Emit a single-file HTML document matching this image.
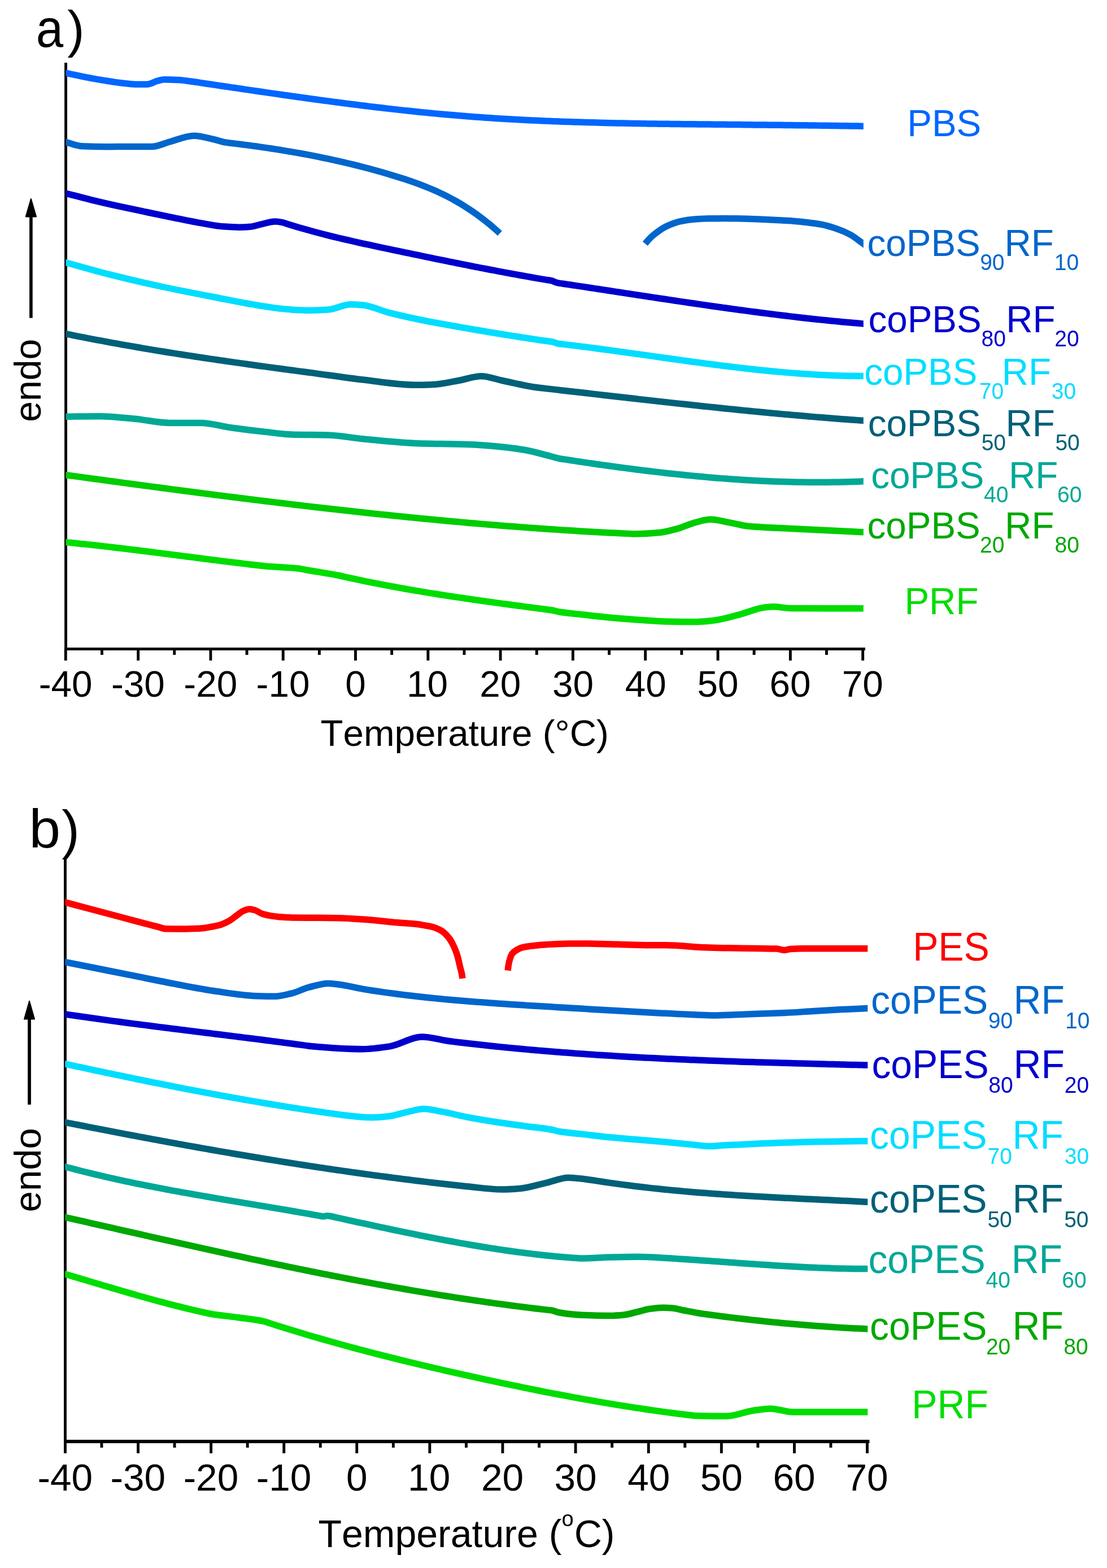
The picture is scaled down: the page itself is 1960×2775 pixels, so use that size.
<!DOCTYPE html><html><head><meta charset="utf-8"><style>html,body{margin:0;padding:0;background:#fff;width:1960px;height:2775px;overflow:hidden}svg{display:block}text{font-family:'Liberation Sans', Arial, Helvetica, sans-serif;font-kerning:none}</style></head><body>
<svg width="1960" height="2775" viewBox="0 0 1960 2775">
<rect width="1960" height="2775" fill="#fff"/>
<rect x="114.1" y="111.0" width="4.9" height="1040.0" fill="#000"/>
<rect x="114.1" y="1146.1" width="1417.8" height="4.9" fill="#000"/>
<rect x="113.8" y="1148.6" width="4.9" height="20.4" fill="#000"/>
<text x="68.72" y="1233.40" font-size="65.60" fill="#000">-40</text>
<rect x="178.0" y="1148.6" width="4.9" height="10.4" fill="#000"/>
<rect x="242.2" y="1148.6" width="4.9" height="20.4" fill="#000"/>
<text x="197.02" y="1233.40" font-size="65.60" fill="#000">-30</text>
<rect x="306.3" y="1148.6" width="4.9" height="10.4" fill="#000"/>
<rect x="370.5" y="1148.6" width="4.9" height="20.4" fill="#000"/>
<text x="325.32" y="1233.40" font-size="65.60" fill="#000">-20</text>
<rect x="434.6" y="1148.6" width="4.9" height="10.4" fill="#000"/>
<rect x="498.8" y="1148.6" width="4.9" height="20.4" fill="#000"/>
<text x="453.62" y="1233.40" font-size="65.60" fill="#000">-10</text>
<rect x="562.9" y="1148.6" width="4.9" height="10.4" fill="#000"/>
<rect x="627.0" y="1148.6" width="4.9" height="20.4" fill="#000"/>
<text x="611.26" y="1233.40" font-size="65.60" fill="#000">0</text>
<rect x="691.2" y="1148.6" width="4.9" height="10.4" fill="#000"/>
<rect x="755.4" y="1148.6" width="4.9" height="20.4" fill="#000"/>
<text x="720.10" y="1233.40" font-size="65.60" fill="#000">10</text>
<rect x="819.5" y="1148.6" width="4.9" height="10.4" fill="#000"/>
<rect x="883.6" y="1148.6" width="4.9" height="20.4" fill="#000"/>
<text x="849.25" y="1233.40" font-size="65.60" fill="#000">20</text>
<rect x="947.8" y="1148.6" width="4.9" height="10.4" fill="#000"/>
<rect x="1011.9" y="1148.6" width="4.9" height="20.4" fill="#000"/>
<text x="977.95" y="1233.40" font-size="65.60" fill="#000">30</text>
<rect x="1076.1" y="1148.6" width="4.9" height="10.4" fill="#000"/>
<rect x="1140.2" y="1148.6" width="4.9" height="20.4" fill="#000"/>
<text x="1106.74" y="1233.40" font-size="65.60" fill="#000">40</text>
<rect x="1204.4" y="1148.6" width="4.9" height="10.4" fill="#000"/>
<rect x="1268.6" y="1148.6" width="4.9" height="20.4" fill="#000"/>
<text x="1234.48" y="1233.40" font-size="65.60" fill="#000">50</text>
<rect x="1332.7" y="1148.6" width="4.9" height="10.4" fill="#000"/>
<rect x="1396.9" y="1148.6" width="4.9" height="20.4" fill="#000"/>
<text x="1362.43" y="1233.40" font-size="65.60" fill="#000">60</text>
<rect x="1461.0" y="1148.6" width="4.9" height="10.4" fill="#000"/>
<rect x="1525.2" y="1148.6" width="4.9" height="20.4" fill="#000"/>
<text x="1490.72" y="1233.40" font-size="65.60" fill="#000">70</text>
<text x="567.53" y="1320.00" font-size="65.50" fill="#000">Temperature (&#176;C)</text>
<text x="63.46" y="83.30" font-size="95.00" fill="#000" transform="translate(67.50,83.30) scale(0.915,1.000) translate(-67.50,-83.30)">a</text>
<text x="119.27" y="82.70" font-size="91.00" fill="#000">)</text>
<rect x="52.1" y="382.4" width="5.6" height="180.3" fill="#000"/>
<path d="M54.9,352.0 L45.8,383.4 L64.0,383.4 Z" fill="#000" stroke="#000" stroke-width="2" stroke-linejoin="round"/>
<text x="0" y="0" font-size="66.0" text-anchor="middle" transform="translate(72.1,673.3) rotate(-90)">endo</text>
<rect x="113.0" y="1518.4" width="4.9" height="1035.7" fill="#000"/>
<rect x="113.0" y="2548.1" width="1426.4" height="6.0" fill="#000"/>
<rect x="113.0" y="2551.1" width="4.9" height="20.9" fill="#000"/>
<text x="66.44" y="2638.40" font-size="67.50" fill="#000">-40</text>
<rect x="177.5" y="2551.1" width="4.9" height="10.9" fill="#000"/>
<rect x="242.1" y="2551.1" width="4.9" height="20.9" fill="#000"/>
<text x="195.54" y="2638.40" font-size="67.50" fill="#000">-30</text>
<rect x="306.6" y="2551.1" width="4.9" height="10.9" fill="#000"/>
<rect x="371.2" y="2551.1" width="4.9" height="20.9" fill="#000"/>
<text x="324.64" y="2638.40" font-size="67.50" fill="#000">-20</text>
<rect x="435.7" y="2551.1" width="4.9" height="10.9" fill="#000"/>
<rect x="500.3" y="2551.1" width="4.9" height="20.9" fill="#000"/>
<text x="453.74" y="2638.40" font-size="67.50" fill="#000">-10</text>
<rect x="564.8" y="2551.1" width="4.9" height="10.9" fill="#000"/>
<rect x="629.3" y="2551.1" width="4.9" height="20.9" fill="#000"/>
<text x="613.03" y="2638.40" font-size="67.50" fill="#000">0</text>
<rect x="693.9" y="2551.1" width="4.9" height="10.9" fill="#000"/>
<rect x="758.4" y="2551.1" width="4.9" height="20.9" fill="#000"/>
<text x="722.11" y="2638.40" font-size="67.50" fill="#000">10</text>
<rect x="823.0" y="2551.1" width="4.9" height="10.9" fill="#000"/>
<rect x="887.5" y="2551.1" width="4.9" height="20.9" fill="#000"/>
<text x="852.08" y="2638.40" font-size="67.50" fill="#000">20</text>
<rect x="952.1" y="2551.1" width="4.9" height="10.9" fill="#000"/>
<rect x="1016.6" y="2551.1" width="4.9" height="20.9" fill="#000"/>
<text x="981.59" y="2638.40" font-size="67.50" fill="#000">30</text>
<rect x="1081.2" y="2551.1" width="4.9" height="10.9" fill="#000"/>
<rect x="1145.8" y="2551.1" width="4.9" height="20.9" fill="#000"/>
<text x="1111.20" y="2638.40" font-size="67.50" fill="#000">40</text>
<rect x="1210.3" y="2551.1" width="4.9" height="10.9" fill="#000"/>
<rect x="1274.9" y="2551.1" width="4.9" height="20.9" fill="#000"/>
<text x="1239.73" y="2638.40" font-size="67.50" fill="#000">50</text>
<rect x="1339.4" y="2551.1" width="4.9" height="10.9" fill="#000"/>
<rect x="1404.0" y="2551.1" width="4.9" height="20.9" fill="#000"/>
<text x="1368.46" y="2638.40" font-size="67.50" fill="#000">60</text>
<rect x="1468.5" y="2551.1" width="4.9" height="10.9" fill="#000"/>
<rect x="1533.0" y="2551.1" width="4.9" height="20.9" fill="#000"/>
<text x="1497.55" y="2638.40" font-size="67.50" fill="#000">70</text>
<text x="563.47" y="2737.60" font-size="68.00" fill="#000">Temperature (</text>
<text x="994.40" y="2701.40" font-size="38.00" fill="#000">o</text>
<text x="1016.65" y="2737.60" font-size="68.00" fill="#000">C)</text>
<text x="51.78" y="1500.50" font-size="96.50" fill="#000" transform="translate(58.00,1500.50) scale(1.035,1.000) translate(-58.00,-1500.50)">b</text>
<text x="109.34" y="1500.50" font-size="95.00" fill="#000">)</text>
<rect x="49.1" y="1802.6" width="5.8" height="152.3" fill="#000"/>
<path d="M52.0,1771.8 L43.0,1803.6 L61.0,1803.6 Z" fill="#000" stroke="#000" stroke-width="2" stroke-linejoin="round"/>
<text x="0" y="0" font-size="67.0" text-anchor="middle" transform="translate(72.1,2070.7) rotate(-90)">endo</text>
<defs><clipPath id="ca"><rect x="116.5" y="0" width="1412.3" height="1146"/></clipPath><clipPath id="cb"><rect x="115.3" y="1500" width="1421.0" height="1048"/></clipPath></defs>
<g clip-path="url(#ca)" fill="none" stroke-width="11.50" stroke-linejoin="round" stroke-linecap="butt">
<path d="M109.00,127.65C111.67,128.20 114.33,128.75 117.00,129.30C131.90,132.37 146.80,135.88 161.70,138.50C182.23,142.11 202.77,145.74 223.30,147.80C229.47,148.42 235.63,149.30 241.80,149.30C247.97,149.30 254.13,149.30 260.30,149.30C266.47,149.30 272.63,144.73 278.80,143.20C282.87,142.19 286.93,140.70 291.00,140.70C299.27,140.70 307.53,141.15 315.80,141.60C326.07,142.16 336.33,143.91 346.60,145.30C349.60,145.70 352.60,146.18 355.60,146.62C358.60,147.07 361.60,147.51 364.60,147.95C367.60,148.40 370.60,148.84 373.60,149.28C376.60,149.73 379.60,150.17 382.60,150.61C385.60,151.06 388.60,151.50 391.60,151.94C394.60,152.39 397.60,152.83 400.60,153.27C403.60,153.72 406.60,154.16 409.60,154.60C412.60,155.04 415.60,155.49 418.60,155.93C421.60,156.37 424.60,156.81 427.60,157.25C430.60,157.69 433.60,158.13 436.60,158.57C439.60,159.01 442.60,159.45 445.60,159.89C448.60,160.33 451.60,160.77 454.60,161.20C457.60,161.64 460.60,162.08 463.60,162.51C466.60,162.95 469.60,163.38 472.60,163.82C475.60,164.25 478.60,164.68 481.60,165.11C484.60,165.55 487.60,165.98 490.60,166.41C493.60,166.84 496.60,167.27 499.60,167.69C502.60,168.12 505.60,168.55 508.60,168.97C511.60,169.40 514.60,169.82 517.60,170.24C520.60,170.67 523.60,171.09 526.60,171.51C529.60,171.93 532.60,172.35 535.60,172.76C538.60,173.18 541.60,173.60 544.60,174.01C547.60,174.43 550.60,174.84 553.60,175.25C556.60,175.66 559.60,176.07 562.60,176.48C565.60,176.89 568.60,177.29 571.60,177.70C574.60,178.10 577.60,178.50 580.60,178.90C583.60,179.30 586.60,179.70 589.60,180.10C592.60,180.49 595.60,180.89 598.60,181.28C601.60,181.67 604.60,182.06 607.60,182.45C610.60,182.84 613.60,183.23 616.60,183.61C619.60,183.99 622.60,184.38 625.60,184.76C628.60,185.14 631.60,185.51 634.60,185.89C637.60,186.26 640.60,186.63 643.60,187.00C646.60,187.37 649.60,187.74 652.60,188.11C655.60,188.47 658.60,188.83 661.60,189.19C664.60,189.55 667.60,189.91 670.60,190.26C673.60,190.62 676.60,190.97 679.60,191.32C682.60,191.67 685.60,192.01 688.60,192.36C691.60,192.70 694.60,193.04 697.60,193.38C700.60,193.71 703.60,194.05 706.60,194.38C709.60,194.71 712.60,195.04 715.60,195.36C718.60,195.69 721.60,196.01 724.60,196.33C727.60,196.65 730.60,196.96 733.60,197.28C736.60,197.59 739.60,197.90 742.60,198.20C745.60,198.51 748.60,198.81 751.60,199.11C754.60,199.41 757.60,199.70 760.60,200.00C763.60,200.29 766.60,200.58 769.60,200.86C772.60,201.14 775.60,201.43 778.60,201.70C781.60,201.98 784.60,202.25 787.60,202.52C790.60,202.79 793.60,203.06 796.60,203.32C799.60,203.58 802.60,203.84 805.60,204.09C808.60,204.35 811.60,204.60 814.60,204.85C817.60,205.09 820.60,205.33 823.60,205.57C826.60,205.81 829.60,206.04 832.60,206.27C835.60,206.50 838.60,206.73 841.60,206.95C844.60,207.17 847.60,207.39 850.60,207.60C853.60,207.82 856.60,208.03 859.60,208.23C862.60,208.44 865.60,208.64 868.60,208.84C871.60,209.04 874.60,209.23 877.60,209.42C880.60,209.61 883.60,209.80 886.60,209.98C889.60,210.17 892.60,210.35 895.60,210.52C898.60,210.70 901.60,210.87 904.60,211.04C907.60,211.21 910.60,211.38 913.60,211.54C916.60,211.70 919.60,211.86 922.60,212.02C925.60,212.17 928.60,212.32 931.60,212.47C934.60,212.62 937.60,212.77 940.60,212.91C943.60,213.06 946.60,213.20 949.60,213.33C952.60,213.47 955.60,213.60 958.60,213.73C961.60,213.87 964.60,213.99 967.60,214.12C970.60,214.24 973.60,214.37 976.60,214.49C979.60,214.61 982.60,214.72 985.60,214.84C988.60,214.95 991.60,215.06 994.60,215.17C997.60,215.28 1000.60,215.39 1003.60,215.49C1006.60,215.59 1009.60,215.70 1012.60,215.79C1015.60,215.89 1018.60,215.99 1021.60,216.08C1024.60,216.18 1027.60,216.27 1030.60,216.36C1033.60,216.45 1036.60,216.53 1039.60,216.62C1042.60,216.70 1045.60,216.79 1048.60,216.87C1051.60,216.95 1054.60,217.03 1057.60,217.10C1060.60,217.18 1063.60,217.25 1066.60,217.33C1069.60,217.40 1072.60,217.47 1075.60,217.54C1078.60,217.61 1081.60,217.67 1084.60,217.74C1087.60,217.81 1090.60,217.87 1093.60,217.93C1096.60,217.99 1099.60,218.05 1102.60,218.11C1105.60,218.17 1108.60,218.23 1111.60,218.28C1114.60,218.34 1117.60,218.39 1120.60,218.44C1123.60,218.49 1126.60,218.55 1129.60,218.60C1132.60,218.64 1135.60,218.69 1138.60,218.74C1141.60,218.79 1144.60,218.83 1147.60,218.88C1150.60,218.92 1153.60,218.96 1156.60,219.01C1159.60,219.05 1162.60,219.09 1165.60,219.13C1168.60,219.17 1171.60,219.21 1174.60,219.25C1177.60,219.29 1180.60,219.32 1183.60,219.36C1186.60,219.40 1189.60,219.43 1192.60,219.47C1195.60,219.50 1198.60,219.54 1201.60,219.57C1204.60,219.60 1207.60,219.63 1210.60,219.67C1213.60,219.70 1216.60,219.73 1219.60,219.76C1222.60,219.79 1225.60,219.82 1228.60,219.85C1231.60,219.88 1234.60,219.91 1237.60,219.94C1240.60,219.97 1243.60,220.00 1246.60,220.03C1249.60,220.06 1252.60,220.09 1255.60,220.11C1258.60,220.14 1261.60,220.17 1264.60,220.20C1267.60,220.23 1270.60,220.25 1273.60,220.28C1276.60,220.31 1279.60,220.34 1282.60,220.37C1285.60,220.39 1288.60,220.42 1291.60,220.45C1294.60,220.48 1297.60,220.51 1300.60,220.53C1303.60,220.56 1306.60,220.59 1309.60,220.62C1312.60,220.65 1315.60,220.68 1318.60,220.70C1321.60,220.73 1324.60,220.76 1327.60,220.79C1330.60,220.82 1333.60,220.85 1336.60,220.88C1339.60,220.91 1342.60,220.94 1345.60,220.97C1348.60,221.00 1351.60,221.03 1354.60,221.06C1357.60,221.09 1360.60,221.12 1363.60,221.15C1366.60,221.18 1369.60,221.21 1372.60,221.24C1375.60,221.27 1378.60,221.30 1381.60,221.34C1384.60,221.37 1387.60,221.40 1390.60,221.43C1393.60,221.47 1396.60,221.50 1399.60,221.53C1402.60,221.57 1405.60,221.60 1408.60,221.63C1411.60,221.67 1414.60,221.70 1417.60,221.74C1420.60,221.77 1423.60,221.81 1426.60,221.85C1429.60,221.88 1432.60,221.92 1435.60,221.96C1438.60,221.99 1441.60,222.03 1444.60,222.07C1447.60,222.11 1450.60,222.14 1453.60,222.18C1456.60,222.22 1459.60,222.26 1462.60,222.30C1465.60,222.34 1468.60,222.38 1471.60,222.43C1474.60,222.47 1477.60,222.51 1480.60,222.55C1483.60,222.60 1486.60,222.64 1489.60,222.68C1492.60,222.73 1495.60,222.77 1498.60,222.82C1501.60,222.86 1504.60,222.91 1507.60,222.96C1510.60,223.00 1513.60,223.05 1516.60,223.10C1519.60,223.15 1522.60,223.20 1525.60,223.25C1526.73,223.27 1527.87,223.29 1529.00,223.30C1531.67,223.35 1534.33,223.39 1537.00,223.44" stroke="#0066FF"/>
<path d="M109.00,249.74C111.67,250.39 114.33,251.05 117.00,251.70C126.67,254.07 136.33,258.43 146.00,258.80C161.50,259.40 177.00,259.70 192.50,259.70C202.77,259.70 213.03,259.40 223.30,259.40C238.70,259.40 254.10,259.40 269.50,259.40C279.80,259.40 290.10,253.68 300.40,251.00C314.77,247.26 329.13,240.30 343.50,240.30C354.80,240.30 366.10,243.98 377.40,246.40C384.93,248.01 392.47,251.04 400.00,252.19C403.00,252.65 406.00,252.90 409.00,253.26C412.00,253.62 415.00,253.98 418.00,254.35C421.00,254.72 424.00,255.09 427.00,255.48C430.00,255.86 433.00,256.24 436.00,256.64C439.00,257.03 442.00,257.43 445.00,257.83C448.00,258.24 451.00,258.65 454.00,259.06C457.00,259.48 460.00,259.90 463.00,260.33C466.00,260.76 469.00,261.20 472.00,261.64C475.00,262.09 478.00,262.54 481.00,262.99C484.00,263.45 487.00,263.92 490.00,264.39C493.00,264.86 496.00,265.34 499.00,265.82C502.00,266.31 505.00,266.80 508.00,267.30C511.00,267.80 514.00,268.31 517.00,268.83C520.00,269.34 523.00,269.87 526.00,270.40C529.00,270.93 532.00,271.47 535.00,272.02C538.00,272.57 541.00,273.12 544.00,273.69C547.00,274.25 550.00,274.83 553.00,275.41C556.00,275.99 559.00,276.58 562.00,277.18C565.00,277.78 568.00,278.39 571.00,279.01C574.00,279.63 577.00,280.25 580.00,280.89C583.00,281.53 586.00,282.17 589.00,282.83C592.00,283.48 595.00,284.15 598.00,284.82C601.00,285.50 604.00,286.18 607.00,286.87C610.00,287.57 613.00,288.27 616.00,288.99C619.00,289.70 622.00,290.43 625.00,291.16C628.00,291.90 631.00,292.64 634.00,293.40C637.00,294.15 640.00,294.92 643.00,295.70C646.00,296.47 649.00,297.26 652.00,298.06C655.00,298.86 658.00,299.67 661.00,300.49C664.00,301.31 667.00,302.15 670.00,302.99C673.00,303.83 676.00,304.69 679.00,305.56C682.00,306.42 685.00,307.30 688.00,308.19C691.00,309.08 694.00,309.99 697.00,310.90C700.00,311.82 703.00,312.74 706.00,313.68C709.00,314.63 712.00,315.58 715.00,316.56C718.00,317.53 721.00,318.52 724.00,319.54C727.00,320.55 730.00,321.59 733.00,322.65C736.00,323.71 739.00,324.80 742.00,325.91C745.00,327.03 748.00,328.17 751.00,329.34C754.00,330.52 757.00,331.72 760.00,332.96C763.00,334.21 766.00,335.48 769.00,336.80C772.00,338.11 775.00,339.46 778.00,340.86C781.00,342.25 784.00,343.69 787.00,345.17C790.00,346.65 793.00,348.18 796.00,349.75C799.00,351.33 802.00,352.95 805.00,354.63C808.00,356.30 811.00,358.03 814.00,359.81C817.00,361.59 820.00,363.42 823.00,365.31C826.00,367.19 829.00,369.14 832.00,371.14C835.00,373.14 838.00,375.20 841.00,377.31C844.00,379.43 847.00,381.61 850.00,383.85C853.00,386.09 856.00,388.39 859.00,390.75C862.00,393.12 865.00,395.55 868.00,398.04C871.00,400.54 874.00,403.10 877.00,405.73C879.67,408.07 882.33,410.46 885.00,412.91" stroke="#0066CC"/>
<path d="M1142.30,431.30C1146.53,426.22 1150.77,421.33 1155.00,417.70C1163.33,410.55 1171.67,404.41 1180.00,400.50C1188.33,396.59 1196.67,393.31 1205.00,391.60C1213.33,389.89 1221.67,388.60 1230.00,388.00C1238.33,387.40 1246.67,386.91 1255.00,386.80C1263.33,386.69 1271.67,386.60 1280.00,386.60C1288.33,386.60 1296.67,386.70 1305.00,386.80C1313.33,386.90 1321.67,387.23 1330.00,387.50C1338.33,387.77 1346.67,388.14 1355.00,388.50C1363.33,388.86 1371.67,389.26 1380.00,389.70C1388.33,390.14 1396.67,390.57 1405.00,391.20C1413.33,391.82 1421.67,392.71 1430.00,393.70C1438.33,394.69 1446.67,395.79 1455.00,397.40C1463.33,399.01 1471.67,401.59 1480.00,404.40C1488.33,407.21 1496.67,410.60 1505.00,415.00C1512.83,419.13 1520.67,425.87 1528.50,431.30C1531.17,433.15 1533.83,435.00 1536.50,436.85" stroke="#0066CC"/>
<path d="M109.00,340.13C111.67,340.82 114.33,341.51 117.00,342.20C131.33,345.90 145.67,349.79 160.00,353.30C176.67,357.38 193.33,361.21 210.00,364.90C226.67,368.59 243.33,372.02 260.00,375.50C276.67,378.98 293.33,382.48 310.00,385.80C328.13,389.42 346.27,393.25 364.40,396.30C374.27,397.96 384.13,400.09 394.00,400.80C403.87,401.51 413.73,402.20 423.60,402.20C430.00,402.20 436.40,401.80 442.80,401.30C448.73,400.84 454.67,398.65 460.60,397.40C469.47,395.53 478.33,392.00 487.20,392.00C491.47,392.00 495.73,392.81 500.00,393.60C503.00,394.15 506.00,395.52 509.00,396.46C512.00,397.40 515.00,398.32 518.00,399.23C521.00,400.14 524.00,401.04 527.00,401.92C530.00,402.81 533.00,403.68 536.00,404.54C539.00,405.40 542.00,406.24 545.00,407.08C548.00,407.91 551.00,408.74 554.00,409.55C557.00,410.36 560.00,411.16 563.00,411.95C566.00,412.74 569.00,413.52 572.00,414.30C575.00,415.07 578.00,415.83 581.00,416.58C584.00,417.33 587.00,418.07 590.00,418.81C593.00,419.54 596.00,420.27 599.00,420.99C602.00,421.71 605.00,422.42 608.00,423.12C611.00,423.83 614.00,424.52 617.00,425.21C620.00,425.90 623.00,426.59 626.00,427.26C629.00,427.94 632.00,428.62 635.00,429.28C638.00,429.95 641.00,430.61 644.00,431.27C647.00,431.93 650.00,432.58 653.00,433.23C656.00,433.88 659.00,434.53 662.00,435.17C665.00,435.81 668.00,436.45 671.00,437.09C674.00,437.73 677.00,438.36 680.00,439.00C683.00,439.63 686.00,440.26 689.00,440.89C692.00,441.52 695.00,442.15 698.00,442.78C701.00,443.41 704.00,444.04 707.00,444.67C710.00,445.30 713.00,445.92 716.00,446.55C719.00,447.18 722.00,447.81 725.00,448.43C728.00,449.06 731.00,449.68 734.00,450.31C737.00,450.93 740.00,451.56 743.00,452.18C746.00,452.80 749.00,453.43 752.00,454.05C755.00,454.67 758.00,455.29 761.00,455.91C764.00,456.53 767.00,457.15 770.00,457.76C773.00,458.38 776.00,459.00 779.00,459.61C782.00,460.23 785.00,460.84 788.00,461.45C791.00,462.06 794.00,462.67 797.00,463.28C800.00,463.89 803.00,464.49 806.00,465.10C809.00,465.70 812.00,466.31 815.00,466.91C818.00,467.51 821.00,468.11 824.00,468.71C827.00,469.30 830.00,469.90 833.00,470.49C836.00,471.09 839.00,471.68 842.00,472.27C845.00,472.86 848.00,473.44 851.00,474.03C854.00,474.61 857.00,475.19 860.00,475.77C863.00,476.35 866.00,476.93 869.00,477.50C872.00,478.08 875.00,478.65 878.00,479.22C881.00,479.79 884.00,480.35 887.00,480.92C890.00,481.48 893.00,482.04 896.00,482.60C899.00,483.16 902.00,483.71 905.00,484.26C908.00,484.81 911.00,485.36 914.00,485.91C917.00,486.45 920.00,486.99 923.00,487.53C926.00,488.07 929.00,488.61 932.00,489.14C935.00,489.67 938.00,490.20 941.00,490.72C944.00,491.25 947.00,491.77 950.00,492.29C953.00,492.80 956.00,493.32 959.00,493.83C962.00,494.34 965.00,494.84 968.00,495.34C970.73,495.80 973.47,496.09 976.20,496.70C979.90,497.53 983.60,499.93 987.30,500.70C990.30,501.32 993.30,501.58 996.30,502.03C999.30,502.48 1002.30,502.92 1005.30,503.37C1008.30,503.82 1011.30,504.27 1014.30,504.72C1017.30,505.17 1020.30,505.62 1023.30,506.07C1026.30,506.52 1029.30,506.97 1032.30,507.43C1035.30,507.88 1038.30,508.33 1041.30,508.79C1044.30,509.24 1047.30,509.70 1050.30,510.15C1053.30,510.61 1056.30,511.06 1059.30,511.52C1062.30,511.97 1065.30,512.43 1068.30,512.89C1071.30,513.34 1074.30,513.80 1077.30,514.26C1080.30,514.71 1083.30,515.17 1086.30,515.63C1089.30,516.09 1092.30,516.54 1095.30,517.00C1098.30,517.46 1101.30,517.92 1104.30,518.37C1107.30,518.83 1110.30,519.29 1113.30,519.75C1116.30,520.20 1119.30,520.66 1122.30,521.12C1125.30,521.57 1128.30,522.03 1131.30,522.49C1134.30,522.94 1137.30,523.40 1140.30,523.85C1143.30,524.31 1146.30,524.76 1149.30,525.22C1152.30,525.67 1155.30,526.13 1158.30,526.58C1161.30,527.03 1164.30,527.49 1167.30,527.94C1170.30,528.39 1173.30,528.84 1176.30,529.29C1179.30,529.74 1182.30,530.19 1185.30,530.64C1188.30,531.09 1191.30,531.54 1194.30,531.98C1197.30,532.43 1200.30,532.88 1203.30,533.32C1206.30,533.77 1209.30,534.21 1212.30,534.65C1215.30,535.10 1218.30,535.54 1221.30,535.98C1224.30,536.42 1227.30,536.86 1230.30,537.29C1233.30,537.73 1236.30,538.17 1239.30,538.60C1242.30,539.04 1245.30,539.47 1248.30,539.90C1251.30,540.33 1254.30,540.76 1257.30,541.19C1260.30,541.62 1263.30,542.05 1266.30,542.47C1269.30,542.90 1272.30,543.32 1275.30,543.74C1278.30,544.16 1281.30,544.58 1284.30,545.00C1287.30,545.42 1290.30,545.84 1293.30,546.25C1296.30,546.66 1299.30,547.07 1302.30,547.48C1305.30,547.89 1308.30,548.30 1311.30,548.71C1314.30,549.11 1317.30,549.52 1320.30,549.92C1323.30,550.32 1326.30,550.72 1329.30,551.11C1332.30,551.51 1335.30,551.90 1338.30,552.30C1341.30,552.69 1344.30,553.08 1347.30,553.46C1350.30,553.85 1353.30,554.23 1356.30,554.62C1359.30,555.00 1362.30,555.38 1365.30,555.75C1368.30,556.13 1371.30,556.50 1374.30,556.87C1377.30,557.24 1380.30,557.61 1383.30,557.97C1386.30,558.34 1389.30,558.70 1392.30,559.06C1395.30,559.42 1398.30,559.77 1401.30,560.13C1404.30,560.48 1407.30,560.83 1410.30,561.18C1413.30,561.52 1416.30,561.86 1419.30,562.20C1422.30,562.54 1425.30,562.88 1428.30,563.21C1431.30,563.55 1434.30,563.88 1437.30,564.20C1440.30,564.53 1443.30,564.85 1446.30,565.17C1449.30,565.49 1452.30,565.81 1455.30,566.12C1458.30,566.43 1461.30,566.74 1464.30,567.04C1467.30,567.35 1470.30,567.65 1473.30,567.95C1476.30,568.24 1479.30,568.54 1482.30,568.83C1485.30,569.12 1488.30,569.40 1491.30,569.68C1494.30,569.96 1497.30,570.24 1500.30,570.51C1503.30,570.79 1506.30,571.06 1509.30,571.32C1512.30,571.59 1515.30,571.85 1518.30,572.10C1521.30,572.36 1524.30,572.61 1527.30,572.86C1527.87,572.91 1528.43,572.95 1529.00,573.00C1531.67,573.22 1534.33,573.44 1537.00,573.66" stroke="#0000CC"/>
<path d="M109.00,462.62C111.67,463.34 114.33,464.07 117.00,464.80C142.17,471.67 167.33,479.05 192.50,485.40C223.33,493.18 254.17,500.35 285.00,507.00C315.80,513.64 346.60,519.60 377.40,525.50C408.23,531.41 439.07,538.15 469.90,542.50C485.33,544.68 500.77,547.07 516.20,548.00C526.47,548.62 536.73,549.30 547.00,549.30C558.27,549.30 569.53,548.73 580.80,548.00C594.17,547.14 607.53,538.80 620.90,538.80C628.10,538.80 635.30,539.38 642.50,540.00C657.90,541.33 673.30,549.42 688.70,553.30C714.40,559.77 740.10,565.22 765.80,570.20C768.80,570.78 771.80,571.29 774.80,571.84C777.80,572.38 780.80,572.92 783.80,573.46C786.80,574.00 789.80,574.54 792.80,575.08C795.80,575.61 798.80,576.15 801.80,576.68C804.80,577.21 807.80,577.74 810.80,578.27C813.80,578.80 816.80,579.33 819.80,579.85C822.80,580.38 825.80,580.90 828.80,581.42C831.80,581.94 834.80,582.46 837.80,582.97C840.80,583.49 843.80,584.00 846.80,584.51C849.80,585.02 852.80,585.53 855.80,586.04C858.80,586.54 861.80,587.05 864.80,587.55C867.80,588.05 870.80,588.55 873.80,589.04C876.80,589.54 879.80,590.03 882.80,590.52C885.80,591.01 888.80,591.50 891.80,591.98C894.80,592.46 897.80,592.94 900.80,593.42C903.80,593.90 906.80,594.38 909.80,594.85C912.80,595.32 915.80,595.79 918.80,596.26C921.80,596.72 924.80,597.19 927.80,597.64C930.80,598.10 933.80,598.56 936.80,599.01C939.80,599.47 942.80,599.92 945.80,600.36C948.80,600.81 951.80,601.25 954.80,601.69C957.80,602.13 960.80,602.57 963.80,603.00C966.80,603.43 969.80,603.86 972.80,604.28C974.73,604.56 976.67,604.73 978.60,605.10C981.90,605.73 985.20,607.74 988.50,608.29C991.50,608.80 994.50,608.98 997.50,609.33C1000.50,609.68 1003.50,610.04 1006.50,610.39C1009.50,610.75 1012.50,611.12 1015.50,611.48C1018.50,611.85 1021.50,612.22 1024.50,612.59C1027.50,612.96 1030.50,613.34 1033.50,613.72C1036.50,614.10 1039.50,614.49 1042.50,614.87C1045.50,615.26 1048.50,615.65 1051.50,616.04C1054.50,616.43 1057.50,616.83 1060.50,617.23C1063.50,617.62 1066.50,618.02 1069.50,618.43C1072.50,618.83 1075.50,619.23 1078.50,619.64C1081.50,620.05 1084.50,620.45 1087.50,620.86C1090.50,621.27 1093.50,621.69 1096.50,622.10C1099.50,622.51 1102.50,622.93 1105.50,623.35C1108.50,623.76 1111.50,624.18 1114.50,624.60C1117.50,625.02 1120.50,625.44 1123.50,625.86C1126.50,626.28 1129.50,626.70 1132.50,627.12C1135.50,627.55 1138.50,627.97 1141.50,628.39C1144.50,628.82 1147.50,629.24 1150.50,629.66C1153.50,630.09 1156.50,630.51 1159.50,630.93C1162.50,631.36 1165.50,631.78 1168.50,632.20C1171.50,632.63 1174.50,633.05 1177.50,633.47C1180.50,633.89 1183.50,634.31 1186.50,634.73C1189.50,635.15 1192.50,635.57 1195.50,635.99C1198.50,636.41 1201.50,636.83 1204.50,637.24C1207.50,637.66 1210.50,638.07 1213.50,638.49C1216.50,638.90 1219.50,639.31 1222.50,639.72C1225.50,640.13 1228.50,640.54 1231.50,640.94C1234.50,641.35 1237.50,641.75 1240.50,642.15C1243.50,642.55 1246.50,642.95 1249.50,643.35C1252.50,643.74 1255.50,644.14 1258.50,644.53C1261.50,644.92 1264.50,645.31 1267.50,645.69C1270.50,646.07 1273.50,646.46 1276.50,646.83C1279.50,647.21 1282.50,647.59 1285.50,647.96C1288.50,648.33 1291.50,648.70 1294.50,649.06C1297.50,649.43 1300.50,649.79 1303.50,650.14C1306.50,650.50 1309.50,650.85 1312.50,651.20C1315.50,651.55 1318.50,651.89 1321.50,652.23C1324.50,652.57 1327.50,652.91 1330.50,653.24C1333.50,653.57 1336.50,653.89 1339.50,654.21C1342.50,654.53 1345.50,654.85 1348.50,655.16C1351.50,655.47 1354.50,655.77 1357.50,656.07C1360.50,656.37 1363.50,656.66 1366.50,656.95C1369.50,657.24 1372.50,657.52 1375.50,657.80C1378.50,658.07 1381.50,658.34 1384.50,658.61C1387.50,658.87 1390.50,659.13 1393.50,659.38C1396.50,659.63 1399.50,659.87 1402.50,660.11C1405.50,660.35 1408.50,660.58 1411.50,660.81C1414.50,661.03 1417.50,661.25 1420.50,661.46C1423.50,661.67 1426.50,661.87 1429.50,662.07C1432.50,662.26 1435.50,662.45 1438.50,662.63C1441.50,662.81 1444.50,662.99 1447.50,663.15C1450.50,663.31 1453.50,663.47 1456.50,663.62C1459.50,663.77 1462.50,663.91 1465.50,664.04C1468.50,664.17 1471.50,664.30 1474.50,664.41C1477.50,664.53 1480.50,664.64 1483.50,664.73C1486.50,664.83 1489.50,664.92 1492.50,665.00C1495.50,665.08 1498.50,665.15 1501.50,665.21C1504.50,665.27 1507.50,665.32 1510.50,665.36C1513.50,665.40 1516.50,665.44 1519.50,665.46C1522.50,665.48 1525.50,665.50 1528.50,665.50C1528.67,665.50 1528.83,665.50 1529.00,665.50C1531.67,665.50 1534.33,665.50 1537.00,665.50" stroke="#00DDFF"/>
<path d="M109.00,589.27C111.67,589.82 114.33,590.36 117.00,590.90C120.00,591.51 123.00,592.12 126.00,592.73C129.00,593.33 132.00,593.94 135.00,594.53C138.00,595.13 141.00,595.73 144.00,596.32C147.00,596.91 150.00,597.49 153.00,598.08C156.00,598.66 159.00,599.24 162.00,599.81C165.00,600.39 168.00,600.96 171.00,601.53C174.00,602.10 177.00,602.66 180.00,603.22C183.00,603.78 186.00,604.34 189.00,604.90C192.00,605.45 195.00,606.00 198.00,606.55C201.00,607.10 204.00,607.64 207.00,608.18C210.00,608.72 213.00,609.26 216.00,609.79C219.00,610.33 222.00,610.86 225.00,611.39C228.00,611.92 231.00,612.44 234.00,612.96C237.00,613.48 240.00,614.00 243.00,614.52C246.00,615.03 249.00,615.55 252.00,616.06C255.00,616.57 258.00,617.07 261.00,617.58C264.00,618.08 267.00,618.58 270.00,619.08C273.00,619.58 276.00,620.07 279.00,620.57C282.00,621.06 285.00,621.55 288.00,622.04C291.00,622.52 294.00,623.01 297.00,623.49C300.00,623.97 303.00,624.45 306.00,624.93C309.00,625.41 312.00,625.88 315.00,626.35C318.00,626.82 321.00,627.29 324.00,627.76C327.00,628.23 330.00,628.69 333.00,629.16C336.00,629.62 339.00,630.08 342.00,630.54C345.00,630.99 348.00,631.45 351.00,631.90C354.00,632.36 357.00,632.81 360.00,633.26C363.00,633.71 366.00,634.16 369.00,634.60C372.00,635.05 375.00,635.49 378.00,635.93C381.00,636.37 384.00,636.81 387.00,637.25C390.00,637.69 393.00,638.12 396.00,638.56C399.00,638.99 402.00,639.42 405.00,639.85C408.00,640.28 411.00,640.71 414.00,641.14C417.00,641.57 420.00,641.99 423.00,642.41C426.00,642.84 429.00,643.26 432.00,643.68C435.00,644.10 438.00,644.52 441.00,644.94C444.00,645.36 447.00,645.77 450.00,646.19C453.00,646.60 456.00,647.01 459.00,647.43C462.00,647.84 465.00,648.25 468.00,648.66C471.00,649.07 474.00,649.48 477.00,649.88C480.00,650.29 483.00,650.70 486.00,651.10C489.00,651.51 492.00,651.91 495.00,652.31C498.00,652.72 501.00,653.12 504.00,653.52C507.00,653.92 510.00,654.32 513.00,654.72C516.00,655.12 519.00,655.51 522.00,655.91C525.00,656.31 528.00,656.71 531.00,657.10C534.00,657.50 537.00,657.89 540.00,658.29C543.00,658.68 546.00,659.07 549.00,659.47C549.33,659.51 549.67,659.55 550.00,659.60C580.83,663.67 611.67,668.48 642.50,672.00C673.33,675.52 704.17,681.20 735.00,681.20C745.27,681.20 755.53,680.94 765.80,680.60C781.20,680.09 796.60,676.14 812.00,673.50C825.37,671.21 838.73,665.80 852.10,665.80C864.43,665.80 876.77,670.98 889.10,673.50C909.63,677.69 930.17,683.02 950.70,685.80C953.70,686.20 956.70,686.48 959.70,686.82C962.70,687.16 965.70,687.50 968.70,687.84C971.70,688.18 974.70,688.53 977.70,688.87C980.70,689.21 983.70,689.55 986.70,689.90C989.70,690.24 992.70,690.58 995.70,690.93C998.70,691.27 1001.70,691.61 1004.70,691.96C1007.70,692.30 1010.70,692.64 1013.70,692.99C1016.70,693.33 1019.70,693.67 1022.70,694.02C1025.70,694.36 1028.70,694.71 1031.70,695.05C1034.70,695.39 1037.70,695.74 1040.70,696.08C1043.70,696.43 1046.70,696.77 1049.70,697.11C1052.70,697.46 1055.70,697.80 1058.70,698.14C1061.70,698.49 1064.70,698.83 1067.70,699.18C1070.70,699.52 1073.70,699.86 1076.70,700.20C1079.70,700.55 1082.70,700.89 1085.70,701.23C1088.70,701.58 1091.70,701.92 1094.70,702.26C1097.70,702.60 1100.70,702.94 1103.70,703.28C1106.70,703.63 1109.70,703.97 1112.70,704.31C1115.70,704.65 1118.70,704.99 1121.70,705.33C1124.70,705.67 1127.70,706.01 1130.70,706.34C1133.70,706.68 1136.70,707.02 1139.70,707.36C1142.70,707.70 1145.70,708.03 1148.70,708.37C1151.70,708.71 1154.70,709.04 1157.70,709.38C1160.70,709.71 1163.70,710.05 1166.70,710.38C1169.70,710.72 1172.70,711.05 1175.70,711.38C1178.70,711.71 1181.70,712.05 1184.70,712.38C1187.70,712.71 1190.70,713.04 1193.70,713.37C1196.70,713.70 1199.70,714.03 1202.70,714.35C1205.70,714.68 1208.70,715.01 1211.70,715.33C1214.70,715.66 1217.70,715.99 1220.70,716.31C1223.70,716.63 1226.70,716.96 1229.70,717.28C1232.70,717.60 1235.70,717.92 1238.70,718.24C1241.70,718.56 1244.70,718.88 1247.70,719.20C1250.70,719.52 1253.70,719.84 1256.70,720.15C1259.70,720.47 1262.70,720.78 1265.70,721.09C1268.70,721.41 1271.70,721.72 1274.70,722.03C1277.70,722.34 1280.70,722.65 1283.70,722.96C1286.70,723.27 1289.70,723.58 1292.70,723.88C1295.70,724.19 1298.70,724.49 1301.70,724.80C1304.70,725.10 1307.70,725.40 1310.70,725.70C1313.70,726.00 1316.70,726.30 1319.70,726.60C1322.70,726.90 1325.70,727.19 1328.70,727.49C1331.70,727.78 1334.70,728.07 1337.70,728.37C1340.70,728.66 1343.70,728.95 1346.70,729.24C1349.70,729.52 1352.70,729.81 1355.70,730.10C1358.70,730.38 1361.70,730.66 1364.70,730.95C1367.70,731.23 1370.70,731.51 1373.70,731.79C1376.70,732.06 1379.70,732.34 1382.70,732.61C1385.70,732.89 1388.70,733.16 1391.70,733.43C1394.70,733.70 1397.70,733.97 1400.70,734.24C1403.70,734.51 1406.70,734.77 1409.70,735.04C1412.70,735.30 1415.70,735.56 1418.70,735.82C1421.70,736.08 1424.70,736.34 1427.70,736.60C1430.70,736.85 1433.70,737.11 1436.70,737.36C1439.70,737.61 1442.70,737.86 1445.70,738.11C1448.70,738.35 1451.70,738.60 1454.70,738.84C1457.70,739.09 1460.70,739.33 1463.70,739.57C1466.70,739.80 1469.70,740.04 1472.70,740.28C1475.70,740.51 1478.70,740.74 1481.70,740.97C1484.70,741.20 1487.70,741.43 1490.70,741.65C1493.70,741.88 1496.70,742.10 1499.70,742.32C1502.70,742.54 1505.70,742.76 1508.70,742.98C1511.70,743.19 1514.70,743.41 1517.70,743.62C1520.70,743.83 1523.70,744.03 1526.70,744.24C1527.47,744.29 1528.23,744.35 1529.00,744.40C1531.67,744.58 1534.33,744.76 1537.00,744.95" stroke="#006078"/>
<path d="M109.00,737.38C111.67,737.35 114.33,737.33 117.00,737.30C137.00,737.10 157.00,736.70 177.00,736.70C197.57,736.70 218.13,739.44 238.70,741.30C259.27,743.16 279.83,748.40 300.40,748.40C318.90,748.40 337.40,748.40 355.90,748.40C373.37,748.40 390.83,754.25 408.30,756.70C428.83,759.58 449.37,762.14 469.90,764.40C485.33,766.10 500.77,768.57 516.20,769.00C537.73,769.60 559.27,769.41 580.80,770.00C601.37,770.56 621.93,774.73 642.50,776.70C673.33,779.65 704.17,783.40 735.00,784.50C765.80,785.60 796.60,785.50 827.40,786.60C847.97,787.33 868.53,789.04 889.10,791.00C902.73,792.30 916.37,794.15 930.00,796.50C945.00,799.09 960.00,803.65 975.00,807.50C980.00,808.78 985.00,810.54 990.00,811.49C993.00,812.07 996.00,812.42 999.00,812.89C1002.00,813.35 1005.00,813.81 1008.00,814.26C1011.00,814.72 1014.00,815.18 1017.00,815.63C1020.00,816.08 1023.00,816.53 1026.00,816.98C1029.00,817.43 1032.00,817.87 1035.00,818.32C1038.00,818.76 1041.00,819.20 1044.00,819.64C1047.00,820.07 1050.00,820.51 1053.00,820.94C1056.00,821.37 1059.00,821.80 1062.00,822.23C1065.00,822.65 1068.00,823.08 1071.00,823.50C1074.00,823.92 1077.00,824.34 1080.00,824.75C1083.00,825.16 1086.00,825.58 1089.00,825.98C1092.00,826.39 1095.00,826.80 1098.00,827.20C1101.00,827.60 1104.00,828.00 1107.00,828.39C1110.00,828.79 1113.00,829.18 1116.00,829.57C1119.00,829.96 1122.00,830.34 1125.00,830.72C1128.00,831.11 1131.00,831.48 1134.00,831.86C1137.00,832.23 1140.00,832.60 1143.00,832.97C1146.00,833.34 1149.00,833.70 1152.00,834.06C1155.00,834.42 1158.00,834.77 1161.00,835.12C1164.00,835.47 1167.00,835.82 1170.00,836.16C1173.00,836.51 1176.00,836.85 1179.00,837.18C1182.00,837.52 1185.00,837.85 1188.00,838.18C1191.00,838.50 1194.00,838.83 1197.00,839.14C1200.00,839.46 1203.00,839.78 1206.00,840.08C1209.00,840.39 1212.00,840.70 1215.00,841.00C1218.00,841.30 1221.00,841.60 1224.00,841.89C1227.00,842.18 1230.00,842.47 1233.00,842.75C1236.00,843.03 1239.00,843.31 1242.00,843.58C1245.00,843.85 1248.00,844.12 1251.00,844.38C1254.00,844.64 1257.00,844.90 1260.00,845.16C1263.00,845.41 1266.00,845.66 1269.00,845.90C1272.00,846.14 1275.00,846.38 1278.00,846.61C1281.00,846.84 1284.00,847.07 1287.00,847.29C1290.00,847.51 1293.00,847.73 1296.00,847.94C1299.00,848.15 1302.00,848.36 1305.00,848.56C1308.00,848.76 1311.00,848.95 1314.00,849.14C1317.00,849.33 1320.00,849.52 1323.00,849.69C1326.00,849.87 1329.00,850.04 1332.00,850.21C1335.00,850.38 1338.00,850.54 1341.00,850.69C1344.00,850.85 1347.00,851.00 1350.00,851.14C1353.00,851.28 1356.00,851.42 1359.00,851.55C1362.00,851.68 1365.00,851.81 1368.00,851.92C1371.00,852.04 1374.00,852.15 1377.00,852.26C1380.00,852.37 1383.00,852.47 1386.00,852.56C1389.00,852.65 1392.00,852.74 1395.00,852.82C1398.00,852.90 1401.00,852.98 1404.00,853.04C1407.00,853.11 1410.00,853.17 1413.00,853.23C1416.00,853.28 1419.00,853.33 1422.00,853.37C1425.00,853.41 1428.00,853.45 1431.00,853.47C1434.00,853.50 1437.00,853.52 1440.00,853.53C1443.00,853.54 1446.00,853.55 1449.00,853.55C1452.00,853.55 1455.00,853.54 1458.00,853.53C1461.00,853.52 1464.00,853.49 1467.00,853.46C1470.00,853.43 1473.00,853.40 1476.00,853.35C1479.00,853.31 1482.00,853.26 1485.00,853.20C1488.00,853.14 1491.00,853.07 1494.00,853.00C1497.00,852.93 1500.00,852.85 1503.00,852.76C1506.00,852.67 1509.00,852.57 1512.00,852.47C1515.00,852.37 1518.00,852.25 1521.00,852.13C1523.67,852.03 1526.33,851.91 1529.00,851.80C1531.67,851.68 1534.33,851.57 1537.00,851.46" stroke="#00A896"/>
<path d="M109.00,839.61C111.67,839.97 114.33,840.34 117.00,840.70C120.00,841.11 123.00,841.52 126.00,841.93C129.00,842.34 132.00,842.75 135.00,843.15C138.00,843.56 141.00,843.97 144.00,844.38C147.00,844.79 150.00,845.20 153.00,845.60C156.00,846.01 159.00,846.42 162.00,846.83C165.00,847.23 168.00,847.64 171.00,848.05C174.00,848.45 177.00,848.86 180.00,849.26C183.00,849.67 186.00,850.08 189.00,850.48C192.00,850.89 195.00,851.29 198.00,851.70C201.00,852.10 204.00,852.51 207.00,852.91C210.00,853.32 213.00,853.72 216.00,854.12C219.00,854.53 222.00,854.93 225.00,855.33C228.00,855.73 231.00,856.14 234.00,856.54C237.00,856.94 240.00,857.34 243.00,857.74C246.00,858.14 249.00,858.54 252.00,858.94C255.00,859.34 258.00,859.74 261.00,860.14C264.00,860.54 267.00,860.94 270.00,861.34C273.00,861.74 276.00,862.14 279.00,862.53C282.00,862.93 285.00,863.33 288.00,863.72C291.00,864.12 294.00,864.51 297.00,864.91C300.00,865.30 303.00,865.70 306.00,866.09C309.00,866.49 312.00,866.88 315.00,867.27C318.00,867.67 321.00,868.06 324.00,868.45C327.00,868.84 330.00,869.23 333.00,869.62C336.00,870.01 339.00,870.40 342.00,870.79C345.00,871.18 348.00,871.57 351.00,871.96C354.00,872.35 357.00,872.73 360.00,873.12C363.00,873.51 366.00,873.89 369.00,874.28C372.00,874.66 375.00,875.05 378.00,875.43C381.00,875.82 384.00,876.20 387.00,876.58C390.00,876.96 393.00,877.34 396.00,877.72C399.00,878.11 402.00,878.49 405.00,878.86C408.00,879.24 411.00,879.62 414.00,880.00C417.00,880.38 420.00,880.75 423.00,881.13C426.00,881.51 429.00,881.88 432.00,882.26C435.00,882.63 438.00,883.00 441.00,883.38C444.00,883.75 447.00,884.12 450.00,884.49C453.00,884.86 456.00,885.23 459.00,885.60C462.00,885.97 465.00,886.34 468.00,886.71C471.00,887.08 474.00,887.44 477.00,887.81C480.00,888.17 483.00,888.54 486.00,888.90C489.00,889.26 492.00,889.63 495.00,889.99C498.00,890.35 501.00,890.71 504.00,891.07C507.00,891.43 510.00,891.79 513.00,892.15C516.00,892.51 519.00,892.86 522.00,893.22C525.00,893.57 528.00,893.93 531.00,894.28C534.00,894.64 537.00,894.99 540.00,895.34C543.00,895.69 546.00,896.04 549.00,896.39C552.00,896.74 555.00,897.09 558.00,897.44C561.00,897.78 564.00,898.13 567.00,898.47C570.00,898.82 573.00,899.16 576.00,899.51C579.00,899.85 582.00,900.19 585.00,900.53C588.00,900.87 591.00,901.21 594.00,901.55C597.00,901.89 600.00,902.22 603.00,902.56C606.00,902.89 609.00,903.23 612.00,903.56C615.00,903.89 618.00,904.23 621.00,904.56C624.00,904.89 627.00,905.22 630.00,905.55C633.00,905.87 636.00,906.20 639.00,906.53C642.00,906.85 645.00,907.18 648.00,907.50C651.00,907.82 654.00,908.14 657.00,908.46C660.00,908.79 663.00,909.10 666.00,909.42C669.00,909.74 672.00,910.06 675.00,910.37C678.00,910.69 681.00,911.00 684.00,911.31C687.00,911.63 690.00,911.94 693.00,912.25C696.00,912.56 699.00,912.86 702.00,913.17C705.00,913.48 708.00,913.78 711.00,914.09C714.00,914.39 717.00,914.69 720.00,914.99C723.00,915.29 726.00,915.59 729.00,915.89C732.00,916.19 735.00,916.49 738.00,916.78C741.00,917.08 744.00,917.37 747.00,917.66C750.00,917.96 753.00,918.25 756.00,918.53C759.00,918.82 762.00,919.11 765.00,919.40C768.00,919.68 771.00,919.97 774.00,920.25C777.00,920.53 780.00,920.81 783.00,921.09C786.00,921.37 789.00,921.65 792.00,921.93C795.00,922.21 798.00,922.48 801.00,922.75C804.00,923.03 807.00,923.30 810.00,923.57C813.00,923.84 816.00,924.11 819.00,924.37C822.00,924.64 825.00,924.90 828.00,925.17C831.00,925.43 834.00,925.69 837.00,925.95C840.00,926.21 843.00,926.47 846.00,926.73C849.00,926.98 852.00,927.24 855.00,927.49C858.00,927.74 861.00,928.00 864.00,928.25C867.00,928.49 870.00,928.74 873.00,928.99C876.00,929.23 879.00,929.48 882.00,929.72C885.00,929.96 888.00,930.20 891.00,930.44C894.00,930.68 897.00,930.92 900.00,931.15C903.00,931.39 906.00,931.62 909.00,931.85C912.00,932.08 915.00,932.31 918.00,932.54C921.00,932.77 924.00,932.99 927.00,933.22C930.00,933.44 933.00,933.66 936.00,933.88C939.00,934.10 942.00,934.32 945.00,934.54C948.00,934.75 951.00,934.97 954.00,935.18C957.00,935.39 960.00,935.60 963.00,935.81C966.00,936.02 969.00,936.23 972.00,936.43C975.00,936.63 978.00,936.84 981.00,937.04C984.00,937.24 987.00,937.44 990.00,937.63C993.00,937.83 996.00,938.02 999.00,938.21C1002.00,938.41 1005.00,938.60 1008.00,938.78C1011.00,938.97 1014.00,939.16 1017.00,939.34C1020.00,939.53 1023.00,939.71 1026.00,939.89C1029.00,940.07 1032.00,940.24 1035.00,940.42C1038.00,940.59 1041.00,940.77 1044.00,940.94C1047.00,941.11 1050.00,941.28 1053.00,941.45C1056.00,941.61 1059.00,941.78 1062.00,941.94C1065.00,942.10 1068.00,942.26 1071.00,942.42C1074.00,942.58 1077.00,942.73 1080.00,942.89C1083.00,943.04 1086.00,943.19 1089.00,943.34C1092.00,943.49 1095.00,943.64 1098.00,943.78C1101.00,943.93 1104.00,944.07 1107.00,944.21C1110.00,944.35 1113.00,944.49 1116.00,944.62C1118.17,944.72 1120.33,944.91 1122.50,944.91C1137.90,944.91 1153.30,943.80 1168.70,942.40C1178.97,941.47 1189.23,938.38 1199.50,935.60C1209.80,932.81 1220.10,927.40 1230.40,924.80C1239.63,922.47 1248.87,919.30 1258.10,919.30C1269.40,919.30 1280.70,922.77 1292.00,924.80C1302.27,926.65 1312.53,929.98 1322.80,931.00C1348.50,933.56 1374.20,934.22 1399.90,935.60C1442.93,937.91 1485.97,939.73 1529.00,941.80C1531.67,941.93 1534.33,942.06 1537.00,942.18" stroke="#00CC00"/>
<path d="M109.00,958.92C111.67,959.18 114.33,959.44 117.00,959.70C120.00,959.99 123.00,960.29 126.00,960.58C129.00,960.88 132.00,961.18 135.00,961.49C138.00,961.80 141.00,962.11 144.00,962.42C147.00,962.73 150.00,963.05 153.00,963.37C156.00,963.69 159.00,964.02 162.00,964.34C165.00,964.67 168.00,965.00 171.00,965.33C174.00,965.67 177.00,966.00 180.00,966.34C183.00,966.68 186.00,967.02 189.00,967.37C192.00,967.71 195.00,968.06 198.00,968.41C201.00,968.76 204.00,969.11 207.00,969.47C210.00,969.82 213.00,970.18 216.00,970.54C219.00,970.90 222.00,971.26 225.00,971.63C228.00,971.99 231.00,972.36 234.00,972.72C237.00,973.09 240.00,973.46 243.00,973.83C246.00,974.20 249.00,974.57 252.00,974.95C255.00,975.32 258.00,975.70 261.00,976.07C264.00,976.45 267.00,976.83 270.00,977.20C273.00,977.58 276.00,977.96 279.00,978.34C282.00,978.72 285.00,979.11 288.00,979.49C291.00,979.87 294.00,980.25 297.00,980.64C300.00,981.02 303.00,981.40 306.00,981.79C309.00,982.17 312.00,982.56 315.00,982.94C318.00,983.33 321.00,983.71 324.00,984.10C327.00,984.48 330.00,984.87 333.00,985.25C336.00,985.63 339.00,986.02 342.00,986.40C345.00,986.79 348.00,987.17 351.00,987.55C354.00,987.94 357.00,988.32 360.00,988.70C363.00,989.08 366.00,989.46 369.00,989.84C372.00,990.22 375.00,990.60 378.00,990.98C381.00,991.36 384.00,991.73 387.00,992.11C390.00,992.48 393.00,992.86 396.00,993.23C399.00,993.60 402.00,993.97 405.00,994.34C408.00,994.71 411.00,995.08 414.00,995.44C417.00,995.81 420.00,996.17 423.00,996.54C426.00,996.90 429.00,997.26 432.00,997.62C435.00,997.97 438.00,998.33 441.00,998.68C444.00,999.03 447.00,999.38 450.00,999.73C453.00,1000.08 456.00,1000.43 459.00,1000.77C462.00,1001.11 465.00,1001.45 468.00,1001.79C468.63,1001.86 469.27,1001.94 469.90,1002.00C488.93,1003.77 507.97,1003.98 527.00,1006.00C534.67,1006.81 542.33,1008.68 550.00,1010.00C566.67,1012.87 583.33,1015.16 600.00,1018.50C603.00,1019.10 606.00,1019.86 609.00,1020.54C612.00,1021.21 615.00,1021.87 618.00,1022.53C621.00,1023.19 624.00,1023.84 627.00,1024.48C630.00,1025.13 633.00,1025.76 636.00,1026.39C639.00,1027.03 642.00,1027.65 645.00,1028.27C648.00,1028.89 651.00,1029.50 654.00,1030.10C657.00,1030.71 660.00,1031.31 663.00,1031.90C666.00,1032.50 669.00,1033.09 672.00,1033.67C675.00,1034.25 678.00,1034.83 681.00,1035.40C684.00,1035.97 687.00,1036.54 690.00,1037.10C693.00,1037.66 696.00,1038.21 699.00,1038.76C702.00,1039.31 705.00,1039.85 708.00,1040.39C711.00,1040.93 714.00,1041.47 717.00,1041.99C720.00,1042.52 723.00,1043.05 726.00,1043.57C729.00,1044.09 732.00,1044.60 735.00,1045.11C738.00,1045.62 741.00,1046.13 744.00,1046.63C747.00,1047.13 750.00,1047.63 753.00,1048.12C756.00,1048.62 759.00,1049.10 762.00,1049.59C765.00,1050.07 768.00,1050.56 771.00,1051.03C774.00,1051.51 777.00,1051.98 780.00,1052.45C783.00,1052.92 786.00,1053.39 789.00,1053.85C792.00,1054.31 795.00,1054.77 798.00,1055.23C801.00,1055.68 804.00,1056.13 807.00,1056.58C810.00,1057.03 813.00,1057.48 816.00,1057.92C819.00,1058.37 822.00,1058.81 825.00,1059.24C828.00,1059.68 831.00,1060.12 834.00,1060.55C837.00,1060.98 840.00,1061.41 843.00,1061.84C846.00,1062.26 849.00,1062.69 852.00,1063.11C855.00,1063.53 858.00,1063.95 861.00,1064.37C864.00,1064.79 867.00,1065.20 870.00,1065.62C873.00,1066.03 876.00,1066.44 879.00,1066.85C882.00,1067.26 885.00,1067.67 888.00,1068.08C891.00,1068.49 894.00,1068.89 897.00,1069.30C900.00,1069.70 903.00,1070.10 906.00,1070.51C909.00,1070.91 912.00,1071.31 915.00,1071.71C918.00,1072.11 921.00,1072.50 924.00,1072.90C927.00,1073.30 930.00,1073.70 933.00,1074.09C936.00,1074.49 939.00,1074.88 942.00,1075.28C945.00,1075.67 948.00,1076.07 951.00,1076.46C954.00,1076.85 957.00,1077.25 960.00,1077.64C963.00,1078.03 966.00,1078.43 969.00,1078.82C972.00,1079.21 975.00,1079.49 978.00,1080.00C981.33,1080.57 984.67,1081.92 988.00,1082.50C1002.00,1084.94 1016.00,1085.90 1030.00,1087.50C1046.67,1089.41 1063.33,1091.46 1080.00,1093.00C1096.67,1094.54 1113.33,1095.88 1130.00,1097.00C1146.67,1098.12 1163.33,1099.52 1180.00,1099.90C1196.67,1100.28 1213.33,1100.60 1230.00,1100.60C1240.40,1100.60 1250.80,1099.48 1261.20,1098.40C1276.60,1096.81 1292.00,1092.03 1307.40,1088.20C1322.83,1084.36 1338.27,1076.84 1353.70,1075.00C1358.83,1074.39 1363.97,1073.70 1369.10,1073.70C1379.37,1073.70 1389.63,1076.44 1399.90,1076.50C1442.93,1076.74 1485.97,1076.70 1529.00,1076.80C1531.67,1076.81 1534.33,1076.81 1537.00,1076.82" stroke="#00DD00"/>
</g>
<g clip-path="url(#cb)" fill="none" stroke-width="11.50" stroke-linejoin="round" stroke-linecap="butt">
<path d="M107.40,1594.78C110.07,1595.49 112.73,1596.19 115.40,1596.90C130.27,1600.83 145.13,1604.76 160.00,1608.70C176.67,1613.12 193.33,1617.57 210.00,1622.00C226.67,1626.43 243.33,1630.97 260.00,1635.30C266.67,1637.03 273.33,1638.70 280.00,1640.40C284.43,1641.53 288.87,1643.72 293.30,1643.80C301.20,1643.94 309.10,1644.00 317.00,1644.00C325.87,1644.00 334.73,1643.76 343.60,1643.50C349.53,1643.32 355.47,1642.95 361.40,1642.40C366.33,1641.94 371.27,1640.78 376.20,1639.80C381.13,1638.82 386.07,1637.90 391.00,1636.40C395.93,1634.90 400.87,1632.53 405.80,1629.80C410.73,1627.07 415.67,1622.45 420.60,1619.00C424.07,1616.58 427.53,1613.38 431.00,1612.00C434.43,1610.64 437.87,1609.10 441.30,1609.10C444.27,1609.10 447.23,1609.83 450.20,1610.50C455.13,1611.62 460.07,1615.97 465.00,1617.50C469.93,1619.03 474.87,1620.12 479.80,1620.90C484.73,1621.68 489.67,1622.32 494.60,1622.70C502.00,1623.27 509.40,1623.78 516.80,1623.90C532.00,1624.15 547.20,1624.14 562.40,1624.30C574.93,1624.43 587.47,1624.54 600.00,1624.80C614.17,1625.10 628.33,1626.15 642.50,1627.10C663.03,1628.48 683.57,1631.00 704.10,1632.80C716.07,1633.85 728.03,1634.41 740.00,1635.80C744.10,1636.28 748.20,1637.09 752.30,1637.80C756.43,1638.52 760.57,1639.07 764.70,1640.10C768.80,1641.12 772.90,1642.81 777.00,1644.70C779.07,1645.65 781.13,1646.74 783.20,1648.20C787.60,1651.31 792.00,1656.00 796.40,1662.00C798.67,1665.09 800.93,1669.56 803.20,1674.30C804.90,1677.85 806.60,1681.76 808.30,1686.70C809.47,1690.09 810.63,1694.43 811.80,1699.00C812.73,1702.66 813.67,1707.41 814.60,1711.30C815.63,1715.61 816.67,1718.23 817.70,1723.60C818.10,1725.68 818.50,1728.69 818.90,1731.70" stroke="#FF0000"/>
<path d="M899.10,1717.70C899.57,1713.47 900.03,1709.34 900.50,1706.80C901.43,1701.71 902.37,1698.49 903.30,1695.70C904.33,1692.61 905.37,1689.73 906.40,1688.30C908.70,1685.11 911.00,1683.57 913.30,1682.10C917.00,1679.74 920.70,1677.72 924.40,1676.80C929.33,1675.58 934.27,1675.06 939.20,1674.40C944.13,1673.74 949.07,1673.16 954.00,1672.70C957.00,1672.42 960.00,1672.19 963.00,1671.98C966.00,1671.76 969.00,1671.56 972.00,1671.38C975.00,1671.20 978.00,1671.04 981.00,1670.90C984.00,1670.76 987.00,1670.64 990.00,1670.53C993.00,1670.43 996.00,1670.34 999.00,1670.26C1002.00,1670.19 1005.00,1670.13 1008.00,1670.09C1011.00,1670.04 1014.00,1670.00 1017.00,1669.99C1020.00,1669.98 1023.00,1669.97 1026.00,1669.97C1029.00,1669.97 1032.00,1670.00 1035.00,1670.02C1038.00,1670.04 1041.00,1670.08 1044.00,1670.12C1047.00,1670.16 1050.00,1670.22 1053.00,1670.27C1056.00,1670.33 1059.00,1670.40 1062.00,1670.47C1065.00,1670.54 1068.00,1670.61 1071.00,1670.69C1074.00,1670.77 1077.00,1670.85 1080.00,1670.94C1083.00,1671.03 1086.00,1671.12 1089.00,1671.20C1092.00,1671.29 1095.00,1671.39 1098.00,1671.48C1101.00,1671.57 1104.00,1671.66 1107.00,1671.74C1110.00,1671.83 1113.00,1671.92 1116.00,1672.00C1119.00,1672.09 1122.00,1672.17 1125.00,1672.24C1128.00,1672.32 1131.00,1672.39 1134.00,1672.45C1137.00,1672.52 1140.00,1672.58 1143.00,1672.63C1146.00,1672.68 1149.00,1672.73 1152.00,1672.76C1155.00,1672.80 1158.00,1672.83 1161.00,1672.84C1164.00,1672.85 1167.00,1672.86 1170.00,1672.86C1173.00,1672.86 1176.00,1672.83 1179.00,1672.81C1179.33,1672.81 1179.67,1672.80 1180.00,1672.80C1186.67,1672.80 1193.33,1673.19 1200.00,1673.50C1213.33,1674.11 1226.67,1675.98 1240.00,1676.50C1256.67,1677.16 1273.33,1677.50 1290.00,1677.80C1306.67,1678.10 1323.33,1678.26 1340.00,1678.50C1351.67,1678.67 1363.33,1678.64 1375.00,1679.00C1379.33,1679.13 1383.67,1681.50 1388.00,1681.50C1392.00,1681.50 1396.00,1679.77 1400.00,1679.50C1406.67,1679.05 1413.33,1678.70 1420.00,1678.70C1458.77,1678.70 1497.53,1678.70 1536.30,1678.70C1538.97,1678.70 1541.63,1678.70 1544.30,1678.70" stroke="#FF0000"/>
<path d="M107.40,1701.00C110.07,1701.53 112.73,1702.07 115.40,1702.60C141.10,1707.73 166.80,1712.86 192.50,1718.00C223.33,1724.16 254.17,1730.59 285.00,1736.50C315.80,1742.40 346.60,1749.07 377.40,1753.50C403.10,1757.20 428.80,1761.92 454.50,1762.70C464.77,1763.01 475.03,1763.30 485.30,1763.30C495.60,1763.30 505.90,1760.44 516.20,1758.10C526.47,1755.76 536.73,1749.94 547.00,1747.30C558.27,1744.41 569.53,1740.50 580.80,1740.50C585.93,1740.50 591.07,1741.17 596.20,1741.70C611.63,1743.29 627.07,1747.79 642.50,1750.40C645.50,1750.91 648.50,1751.37 651.50,1751.84C654.50,1752.31 657.50,1752.77 660.50,1753.22C663.50,1753.68 666.50,1754.12 669.50,1754.56C672.50,1755.00 675.50,1755.43 678.50,1755.86C681.50,1756.28 684.50,1756.70 687.50,1757.11C690.50,1757.52 693.50,1757.92 696.50,1758.32C699.50,1758.71 702.50,1759.10 705.50,1759.48C708.50,1759.86 711.50,1760.24 714.50,1760.61C717.50,1760.98 720.50,1761.34 723.50,1761.70C726.50,1762.05 729.50,1762.41 732.50,1762.75C735.50,1763.09 738.50,1763.43 741.50,1763.77C744.50,1764.10 747.50,1764.42 750.50,1764.75C753.50,1765.07 756.50,1765.38 759.50,1765.69C762.50,1766.00 765.50,1766.31 768.50,1766.61C771.50,1766.91 774.50,1767.20 777.50,1767.49C780.50,1767.78 783.50,1768.07 786.50,1768.35C789.50,1768.63 792.50,1768.91 795.50,1769.18C798.50,1769.45 801.50,1769.72 804.50,1769.98C807.50,1770.24 810.50,1770.50 813.50,1770.75C816.50,1771.01 819.50,1771.26 822.50,1771.50C825.50,1771.75 828.50,1771.99 831.50,1772.23C834.50,1772.47 837.50,1772.71 840.50,1772.94C843.50,1773.17 846.50,1773.40 849.50,1773.63C852.50,1773.85 855.50,1774.08 858.50,1774.29C861.50,1774.51 864.50,1774.73 867.50,1774.95C870.50,1775.16 873.50,1775.37 876.50,1775.58C879.50,1775.79 882.50,1775.99 885.50,1776.20C888.50,1776.40 891.50,1776.60 894.50,1776.80C897.50,1777.00 900.50,1777.20 903.50,1777.40C906.50,1777.59 909.50,1777.79 912.50,1777.98C915.50,1778.17 918.50,1778.36 921.50,1778.55C924.50,1778.74 927.50,1778.93 930.50,1779.12C933.50,1779.30 936.50,1779.49 939.50,1779.67C942.50,1779.86 945.50,1780.04 948.50,1780.23C951.50,1780.41 954.50,1780.59 957.50,1780.77C960.50,1780.95 963.50,1781.14 966.50,1781.32C969.50,1781.50 972.50,1781.68 975.50,1781.86C978.50,1782.04 981.50,1782.22 984.50,1782.40C987.50,1782.58 990.50,1782.76 993.50,1782.94C996.50,1783.12 999.50,1783.30 1002.50,1783.48C1005.50,1783.66 1008.50,1783.84 1011.50,1784.02C1014.50,1784.20 1017.50,1784.38 1020.50,1784.56C1023.50,1784.74 1026.50,1784.92 1029.50,1785.10C1032.50,1785.28 1035.50,1785.46 1038.50,1785.63C1041.50,1785.81 1044.50,1785.99 1047.50,1786.17C1050.50,1786.34 1053.50,1786.52 1056.50,1786.70C1059.50,1786.87 1062.50,1787.05 1065.50,1787.22C1068.50,1787.40 1071.50,1787.57 1074.50,1787.75C1077.50,1787.92 1080.50,1788.09 1083.50,1788.26C1086.50,1788.44 1089.50,1788.61 1092.50,1788.78C1095.50,1788.95 1098.50,1789.12 1101.50,1789.29C1104.50,1789.46 1107.50,1789.63 1110.50,1789.79C1113.50,1789.96 1116.50,1790.13 1119.50,1790.29C1122.50,1790.46 1125.50,1790.62 1128.50,1790.78C1131.50,1790.95 1134.50,1791.11 1137.50,1791.27C1140.50,1791.43 1143.50,1791.59 1146.50,1791.75C1149.50,1791.91 1152.50,1792.07 1155.50,1792.22C1158.50,1792.38 1161.50,1792.53 1164.50,1792.69C1167.50,1792.84 1170.50,1792.99 1173.50,1793.14C1176.50,1793.29 1179.50,1793.44 1182.50,1793.59C1185.50,1793.74 1188.50,1793.88 1191.50,1794.03C1194.50,1794.17 1197.50,1794.32 1200.50,1794.46C1203.50,1794.60 1206.50,1794.74 1209.50,1794.88C1212.50,1795.02 1215.50,1795.16 1218.50,1795.29C1221.50,1795.43 1224.50,1795.56 1227.50,1795.69C1228.33,1795.73 1229.17,1795.77 1230.00,1795.80C1241.33,1796.26 1252.67,1797.00 1264.00,1797.00C1272.67,1797.00 1281.33,1796.57 1290.00,1796.30C1306.67,1795.77 1323.33,1794.93 1340.00,1794.30C1356.67,1793.67 1373.33,1793.25 1390.00,1792.50C1406.67,1791.75 1423.33,1790.48 1440.00,1789.50C1456.67,1788.52 1473.33,1787.42 1490.00,1786.60C1505.43,1785.84 1520.87,1785.27 1536.30,1784.60C1538.97,1784.48 1541.63,1784.37 1544.30,1784.25" stroke="#0066CC"/>
<path d="M107.40,1793.87C110.07,1794.25 112.73,1794.62 115.40,1795.00C141.10,1798.63 166.80,1802.39 192.50,1805.90C195.50,1806.31 198.50,1806.71 201.50,1807.11C204.50,1807.51 207.50,1807.91 210.50,1808.31C213.50,1808.70 216.50,1809.10 219.50,1809.50C222.50,1809.89 225.50,1810.28 228.50,1810.68C231.50,1811.07 234.50,1811.46 237.50,1811.85C240.50,1812.24 243.50,1812.63 246.50,1813.01C249.50,1813.40 252.50,1813.79 255.50,1814.17C258.50,1814.56 261.50,1814.94 264.50,1815.32C267.50,1815.71 270.50,1816.09 273.50,1816.47C276.50,1816.85 279.50,1817.23 282.50,1817.61C285.50,1817.99 288.50,1818.37 291.50,1818.74C294.50,1819.12 297.50,1819.50 300.50,1819.87C303.50,1820.25 306.50,1820.62 309.50,1821.00C312.50,1821.37 315.50,1821.75 318.50,1822.12C321.50,1822.50 324.50,1822.87 327.50,1823.24C330.50,1823.62 333.50,1823.99 336.50,1824.36C339.50,1824.73 342.50,1825.10 345.50,1825.48C348.50,1825.85 351.50,1826.22 354.50,1826.59C357.50,1826.96 360.50,1827.33 363.50,1827.70C366.50,1828.08 369.50,1828.45 372.50,1828.82C375.50,1829.19 378.50,1829.56 381.50,1829.93C384.50,1830.30 387.50,1830.67 390.50,1831.05C393.50,1831.42 396.50,1831.79 399.50,1832.16C402.50,1832.53 405.50,1832.91 408.50,1833.28C411.50,1833.65 414.50,1834.03 417.50,1834.40C420.50,1834.77 423.50,1835.15 426.50,1835.52C429.50,1835.90 432.50,1836.27 435.50,1836.65C438.50,1837.03 441.50,1837.40 444.50,1837.78C447.50,1838.16 450.50,1838.54 453.50,1838.91C456.50,1839.29 459.50,1839.67 462.50,1840.05C465.50,1840.44 468.50,1840.82 471.50,1841.20C474.50,1841.58 477.50,1841.97 480.50,1842.35C483.50,1842.74 486.50,1843.12 489.50,1843.51C492.50,1843.90 495.50,1844.28 498.50,1844.67C501.50,1845.06 504.50,1845.45 507.50,1845.85C510.50,1846.24 513.50,1846.63 516.50,1847.03C519.50,1847.42 522.50,1847.82 525.50,1848.22C528.50,1848.61 531.50,1849.01 534.50,1849.41C537.50,1849.82 540.50,1850.22 543.50,1850.62C545.67,1850.91 547.83,1851.31 550.00,1851.50C580.83,1854.28 611.67,1856.70 642.50,1856.70C657.90,1856.70 673.30,1854.34 688.70,1852.10C708.23,1849.26 727.77,1835.10 747.30,1835.10C763.73,1835.10 780.17,1840.61 796.60,1842.80C799.60,1843.20 802.60,1843.54 805.60,1843.90C808.60,1844.26 811.60,1844.62 814.60,1844.98C817.60,1845.33 820.60,1845.69 823.60,1846.03C826.60,1846.38 829.60,1846.73 832.60,1847.07C835.60,1847.41 838.60,1847.75 841.60,1848.08C844.60,1848.42 847.60,1848.75 850.60,1849.07C853.60,1849.40 856.60,1849.73 859.60,1850.05C862.60,1850.37 865.60,1850.69 868.60,1851.00C871.60,1851.32 874.60,1851.63 877.60,1851.93C880.60,1852.24 883.60,1852.55 886.60,1852.85C889.60,1853.15 892.60,1853.45 895.60,1853.74C898.60,1854.04 901.60,1854.33 904.60,1854.62C907.60,1854.91 910.60,1855.20 913.60,1855.48C916.60,1855.76 919.60,1856.04 922.60,1856.32C925.60,1856.59 928.60,1856.87 931.60,1857.14C934.60,1857.41 937.60,1857.68 940.60,1857.94C943.60,1858.21 946.60,1858.47 949.60,1858.73C952.60,1858.99 955.60,1859.24 958.60,1859.50C961.60,1859.75 964.60,1860.00 967.60,1860.25C970.60,1860.50 973.60,1860.74 976.60,1860.98C979.60,1861.23 982.60,1861.47 985.60,1861.70C988.60,1861.94 991.60,1862.17 994.60,1862.41C997.60,1862.64 1000.60,1862.87 1003.60,1863.09C1006.60,1863.32 1009.60,1863.54 1012.60,1863.76C1015.60,1863.98 1018.60,1864.20 1021.60,1864.42C1024.60,1864.64 1027.60,1864.85 1030.60,1865.06C1033.60,1865.27 1036.60,1865.48 1039.60,1865.69C1042.60,1865.89 1045.60,1866.10 1048.60,1866.30C1051.60,1866.50 1054.60,1866.70 1057.60,1866.89C1060.60,1867.09 1063.60,1867.28 1066.60,1867.48C1069.60,1867.67 1072.60,1867.86 1075.60,1868.05C1078.60,1868.23 1081.60,1868.42 1084.60,1868.60C1087.60,1868.78 1090.60,1868.96 1093.60,1869.14C1096.60,1869.32 1099.60,1869.50 1102.60,1869.67C1105.60,1869.85 1108.60,1870.02 1111.60,1870.19C1114.60,1870.36 1117.60,1870.53 1120.60,1870.69C1123.60,1870.86 1126.60,1871.02 1129.60,1871.19C1132.60,1871.35 1135.60,1871.51 1138.60,1871.67C1141.60,1871.82 1144.60,1871.98 1147.60,1872.13C1150.60,1872.29 1153.60,1872.44 1156.60,1872.59C1159.60,1872.74 1162.60,1872.89 1165.60,1873.04C1168.60,1873.18 1171.60,1873.33 1174.60,1873.47C1177.60,1873.62 1180.60,1873.76 1183.60,1873.90C1186.60,1874.04 1189.60,1874.17 1192.60,1874.31C1195.60,1874.45 1198.60,1874.58 1201.60,1874.72C1204.60,1874.85 1207.60,1874.98 1210.60,1875.11C1213.60,1875.24 1216.60,1875.37 1219.60,1875.50C1222.60,1875.62 1225.60,1875.75 1228.60,1875.87C1231.60,1875.99 1234.60,1876.12 1237.60,1876.24C1240.60,1876.36 1243.60,1876.48 1246.60,1876.60C1249.60,1876.71 1252.60,1876.83 1255.60,1876.95C1258.60,1877.06 1261.60,1877.17 1264.60,1877.29C1267.60,1877.40 1270.60,1877.51 1273.60,1877.62C1276.60,1877.73 1279.60,1877.84 1282.60,1877.95C1285.60,1878.05 1288.60,1878.16 1291.60,1878.27C1294.60,1878.37 1297.60,1878.47 1300.60,1878.58C1303.60,1878.68 1306.60,1878.78 1309.60,1878.88C1312.60,1878.98 1315.60,1879.08 1318.60,1879.18C1321.60,1879.28 1324.60,1879.38 1327.60,1879.47C1330.60,1879.57 1333.60,1879.66 1336.60,1879.76C1339.60,1879.85 1342.60,1879.95 1345.60,1880.04C1348.60,1880.13 1351.60,1880.22 1354.60,1880.31C1357.60,1880.40 1360.60,1880.49 1363.60,1880.58C1366.60,1880.67 1369.60,1880.76 1372.60,1880.85C1375.60,1880.93 1378.60,1881.02 1381.60,1881.11C1384.60,1881.19 1387.60,1881.28 1390.60,1881.36C1393.60,1881.45 1396.60,1881.53 1399.60,1881.61C1402.60,1881.69 1405.60,1881.78 1408.60,1881.86C1411.60,1881.94 1414.60,1882.02 1417.60,1882.10C1420.60,1882.18 1423.60,1882.26 1426.60,1882.34C1429.60,1882.42 1432.60,1882.50 1435.60,1882.58C1438.60,1882.66 1441.60,1882.74 1444.60,1882.81C1447.60,1882.89 1450.60,1882.97 1453.60,1883.05C1456.60,1883.12 1459.60,1883.20 1462.60,1883.28C1465.60,1883.35 1468.60,1883.43 1471.60,1883.50C1474.60,1883.58 1477.60,1883.65 1480.60,1883.73C1483.60,1883.80 1486.60,1883.88 1489.60,1883.95C1492.60,1884.03 1495.60,1884.10 1498.60,1884.18C1501.60,1884.25 1504.60,1884.32 1507.60,1884.40C1510.60,1884.47 1513.60,1884.55 1516.60,1884.62C1519.60,1884.69 1522.60,1884.77 1525.60,1884.84C1528.60,1884.91 1531.60,1884.99 1534.60,1885.06C1535.17,1885.07 1535.73,1885.09 1536.30,1885.10C1538.97,1885.17 1541.63,1885.23 1544.30,1885.30" stroke="#0000CC"/>
<path d="M107.40,1881.17C110.07,1881.75 112.73,1882.32 115.40,1882.90C118.40,1883.55 121.40,1884.20 124.40,1884.85C127.40,1885.50 130.40,1886.15 133.40,1886.80C136.40,1887.45 139.40,1888.09 142.40,1888.74C145.40,1889.38 148.40,1890.03 151.40,1890.67C154.40,1891.31 157.40,1891.96 160.40,1892.60C163.40,1893.24 166.40,1893.88 169.40,1894.52C172.40,1895.15 175.40,1895.79 178.40,1896.43C181.40,1897.06 184.40,1897.70 187.40,1898.33C190.40,1898.96 193.40,1899.60 196.40,1900.23C199.40,1900.86 202.40,1901.49 205.40,1902.11C208.40,1902.74 211.40,1903.37 214.40,1903.99C217.40,1904.62 220.40,1905.24 223.40,1905.86C226.40,1906.49 229.40,1907.11 232.40,1907.73C235.40,1908.34 238.40,1908.96 241.40,1909.58C244.40,1910.19 247.40,1910.81 250.40,1911.42C253.40,1912.03 256.40,1912.64 259.40,1913.25C262.40,1913.86 265.40,1914.47 268.40,1915.07C271.40,1915.68 274.40,1916.28 277.40,1916.88C280.40,1917.49 283.40,1918.09 286.40,1918.69C289.40,1919.28 292.40,1919.88 295.40,1920.47C298.40,1921.07 301.40,1921.66 304.40,1922.25C307.40,1922.84 310.40,1923.43 313.40,1924.02C316.40,1924.61 319.40,1925.19 322.40,1925.77C325.40,1926.36 328.40,1926.94 331.40,1927.52C334.40,1928.09 337.40,1928.67 340.40,1929.25C343.40,1929.82 346.40,1930.39 349.40,1930.96C352.40,1931.53 355.40,1932.10 358.40,1932.67C361.40,1933.23 364.40,1933.79 367.40,1934.36C370.40,1934.92 373.40,1935.47 376.40,1936.03C379.40,1936.59 382.40,1937.14 385.40,1937.69C388.40,1938.25 391.40,1938.79 394.40,1939.34C397.40,1939.89 400.40,1940.43 403.40,1940.97C406.40,1941.52 409.40,1942.06 412.40,1942.59C415.40,1943.13 418.40,1943.66 421.40,1944.20C424.40,1944.73 427.40,1945.26 430.40,1945.78C433.40,1946.31 436.40,1946.83 439.40,1947.36C442.40,1947.88 445.40,1948.40 448.40,1948.91C451.40,1949.43 454.40,1949.94 457.40,1950.45C460.40,1950.96 463.40,1951.47 466.40,1951.97C469.40,1952.48 472.40,1952.98 475.40,1953.48C478.40,1953.98 481.40,1954.47 484.40,1954.97C487.40,1955.46 490.40,1955.95 493.40,1956.44C496.40,1956.93 499.40,1957.41 502.40,1957.89C505.40,1958.37 508.40,1958.85 511.40,1959.33C514.40,1959.80 517.40,1960.27 520.40,1960.74C523.40,1961.21 526.40,1961.68 529.40,1962.14C532.40,1962.60 535.40,1963.06 538.40,1963.52C541.40,1963.98 544.40,1964.43 547.40,1964.88C550.40,1965.33 553.40,1965.78 556.40,1966.22C559.40,1966.66 562.40,1967.10 565.40,1967.54C568.40,1967.98 571.40,1968.41 574.40,1968.84C577.40,1969.27 580.40,1969.70 583.40,1970.12C586.40,1970.54 589.40,1970.96 592.40,1971.38C595.40,1971.79 598.40,1972.21 601.40,1972.62C604.40,1973.02 607.40,1973.43 610.40,1973.83C610.83,1973.89 611.27,1973.96 611.70,1974.01C627.10,1975.68 642.50,1977.70 657.90,1977.70C668.17,1977.70 678.43,1976.62 688.70,1975.50C698.97,1974.38 709.23,1970.52 719.50,1968.40C729.80,1966.27 740.10,1962.60 750.40,1962.60C760.67,1962.60 770.93,1965.41 781.20,1967.20C796.60,1969.88 812.00,1974.18 827.40,1977.10C844.93,1980.42 862.47,1983.32 880.00,1986.00C896.67,1988.55 913.33,1990.71 930.00,1993.00C946.00,1995.20 962.00,1996.51 978.00,1999.50C982.00,2000.25 986.00,2001.83 990.00,2002.50C1003.33,2004.75 1016.67,2005.57 1030.00,2007.10C1046.67,2009.01 1063.33,2011.19 1080.00,2012.80C1096.67,2014.41 1113.33,2015.60 1130.00,2017.00C1146.67,2018.40 1163.33,2019.69 1180.00,2021.20C1196.67,2022.71 1213.33,2024.44 1230.00,2026.10C1238.27,2026.92 1246.53,2028.60 1254.80,2028.60C1263.20,2028.60 1271.60,2027.56 1280.00,2027.10C1287.33,2026.70 1294.67,2026.35 1302.00,2026.00C1327.70,2024.77 1353.40,2023.41 1379.10,2022.50C1399.63,2021.78 1420.17,2021.09 1440.70,2020.70C1472.57,2020.09 1504.43,2019.83 1536.30,2019.40C1538.97,2019.36 1541.63,2019.33 1544.30,2019.29" stroke="#00DDFF"/>
<path d="M107.40,1984.72C110.07,1985.25 112.73,1985.77 115.40,1986.30C118.40,1986.90 121.40,1987.49 124.40,1988.08C127.40,1988.68 130.40,1989.27 133.40,1989.86C136.40,1990.45 139.40,1991.04 142.40,1991.63C145.40,1992.22 148.40,1992.81 151.40,1993.40C154.40,1993.99 157.40,1994.57 160.40,1995.16C163.40,1995.74 166.40,1996.33 169.40,1996.91C172.40,1997.50 175.40,1998.08 178.40,1998.66C181.40,1999.24 184.40,1999.82 187.40,2000.40C190.40,2000.98 193.40,2001.56 196.40,2002.13C199.40,2002.71 202.40,2003.29 205.40,2003.86C208.40,2004.44 211.40,2005.01 214.40,2005.58C217.40,2006.16 220.40,2006.73 223.40,2007.30C226.40,2007.87 229.40,2008.44 232.40,2009.01C235.40,2009.57 238.40,2010.14 241.40,2010.71C244.40,2011.27 247.40,2011.84 250.40,2012.40C253.40,2012.96 256.40,2013.52 259.40,2014.08C262.40,2014.64 265.40,2015.20 268.40,2015.76C271.40,2016.32 274.40,2016.88 277.40,2017.43C280.40,2017.99 283.40,2018.54 286.40,2019.10C289.40,2019.65 292.40,2020.20 295.40,2020.75C298.40,2021.30 301.40,2021.85 304.40,2022.40C307.40,2022.94 310.40,2023.49 313.40,2024.04C316.40,2024.58 319.40,2025.12 322.40,2025.67C325.40,2026.21 328.40,2026.75 331.40,2027.29C334.40,2027.83 337.40,2028.36 340.40,2028.90C343.40,2029.44 346.40,2029.97 349.40,2030.50C352.40,2031.04 355.40,2031.57 358.40,2032.10C361.40,2032.63 364.40,2033.16 367.40,2033.69C370.40,2034.21 373.40,2034.74 376.40,2035.26C379.40,2035.79 382.40,2036.31 385.40,2036.83C388.40,2037.35 391.40,2037.87 394.40,2038.39C397.40,2038.91 400.40,2039.43 403.40,2039.94C406.40,2040.46 409.40,2040.97 412.40,2041.48C415.40,2041.99 418.40,2042.50 421.40,2043.01C424.40,2043.52 427.40,2044.03 430.40,2044.53C433.40,2045.04 436.40,2045.54 439.40,2046.04C442.40,2046.55 445.40,2047.05 448.40,2047.54C451.40,2048.04 454.40,2048.54 457.40,2049.03C460.40,2049.53 463.40,2050.02 466.40,2050.51C469.40,2051.01 472.40,2051.49 475.40,2051.98C478.40,2052.47 481.40,2052.96 484.40,2053.44C487.40,2053.93 490.40,2054.41 493.40,2054.89C496.40,2055.37 499.40,2055.85 502.40,2056.33C505.40,2056.80 508.40,2057.28 511.40,2057.75C514.40,2058.23 517.40,2058.70 520.40,2059.17C523.40,2059.64 526.40,2060.10 529.40,2060.57C532.40,2061.04 535.40,2061.50 538.40,2061.96C541.40,2062.42 544.40,2062.88 547.40,2063.34C550.40,2063.80 553.40,2064.26 556.40,2064.71C559.40,2065.17 562.40,2065.62 565.40,2066.07C568.40,2066.52 571.40,2066.97 574.40,2067.41C577.40,2067.86 580.40,2068.30 583.40,2068.75C586.40,2069.19 589.40,2069.63 592.40,2070.07C595.40,2070.51 598.40,2070.94 601.40,2071.38C604.40,2071.81 607.40,2072.24 610.40,2072.67C613.40,2073.10 616.40,2073.53 619.40,2073.95C622.40,2074.38 625.40,2074.80 628.40,2075.23C631.40,2075.65 634.40,2076.07 637.40,2076.48C640.40,2076.90 643.40,2077.32 646.40,2077.73C649.40,2078.14 652.40,2078.55 655.40,2078.96C658.40,2079.37 661.40,2079.77 664.40,2080.18C667.40,2080.58 670.40,2080.98 673.40,2081.38C676.40,2081.78 679.40,2082.18 682.40,2082.57C685.40,2082.97 688.40,2083.36 691.40,2083.75C694.40,2084.14 697.40,2084.53 700.40,2084.92C703.40,2085.30 706.40,2085.69 709.40,2086.07C712.40,2086.45 715.40,2086.83 718.40,2087.20C721.40,2087.58 724.40,2087.95 727.40,2088.33C730.40,2088.70 733.40,2089.07 736.40,2089.43C739.40,2089.80 742.40,2090.16 745.40,2090.53C748.40,2090.89 751.40,2091.25 754.40,2091.61C757.40,2091.96 760.40,2092.32 763.40,2092.67C766.40,2093.02 769.40,2093.37 772.40,2093.72C775.40,2094.07 778.40,2094.41 781.40,2094.75C784.40,2095.10 787.40,2095.44 790.40,2095.77C793.40,2096.11 796.40,2096.44 799.40,2096.78C802.40,2097.11 805.40,2097.44 808.40,2097.77C811.40,2098.09 814.40,2098.42 817.40,2098.74C820.40,2099.06 823.40,2099.38 826.40,2099.70C826.73,2099.73 827.07,2099.77 827.40,2099.80C847.97,2101.80 868.53,2105.00 889.10,2105.00C899.37,2105.00 909.63,2104.28 919.90,2103.50C935.33,2102.33 950.77,2097.04 966.20,2093.60C979.53,2090.63 992.87,2084.30 1006.20,2084.30C1020.60,2084.30 1035.00,2086.83 1049.40,2088.70C1052.40,2089.09 1055.40,2089.66 1058.40,2090.13C1061.40,2090.60 1064.40,2091.06 1067.40,2091.51C1070.40,2091.96 1073.40,2092.41 1076.40,2092.85C1079.40,2093.29 1082.40,2093.72 1085.40,2094.14C1088.40,2094.57 1091.40,2094.99 1094.40,2095.40C1097.40,2095.81 1100.40,2096.21 1103.40,2096.61C1106.40,2097.01 1109.40,2097.40 1112.40,2097.79C1115.40,2098.17 1118.40,2098.55 1121.40,2098.92C1124.40,2099.29 1127.40,2099.66 1130.40,2100.02C1133.40,2100.38 1136.40,2100.73 1139.40,2101.08C1142.40,2101.43 1145.40,2101.77 1148.40,2102.11C1151.40,2102.44 1154.40,2102.77 1157.40,2103.10C1160.40,2103.42 1163.40,2103.74 1166.40,2104.06C1169.40,2104.37 1172.40,2104.68 1175.40,2104.98C1178.40,2105.29 1181.40,2105.59 1184.40,2105.88C1187.40,2106.17 1190.40,2106.46 1193.40,2106.74C1196.40,2107.03 1199.40,2107.31 1202.40,2107.58C1205.40,2107.85 1208.40,2108.12 1211.40,2108.39C1214.40,2108.65 1217.40,2108.91 1220.40,2109.17C1223.40,2109.42 1226.40,2109.67 1229.40,2109.92C1232.40,2110.17 1235.40,2110.41 1238.40,2110.65C1241.40,2110.88 1244.40,2111.12 1247.40,2111.35C1250.40,2111.58 1253.40,2111.81 1256.40,2112.03C1259.40,2112.25 1262.40,2112.47 1265.40,2112.69C1268.40,2112.90 1271.40,2113.12 1274.40,2113.33C1277.40,2113.53 1280.40,2113.74 1283.40,2113.94C1286.40,2114.14 1289.40,2114.34 1292.40,2114.54C1295.40,2114.74 1298.40,2114.93 1301.40,2115.12C1304.40,2115.31 1307.40,2115.50 1310.40,2115.68C1313.40,2115.87 1316.40,2116.05 1319.40,2116.23C1322.40,2116.41 1325.40,2116.59 1328.40,2116.76C1331.40,2116.93 1334.40,2117.11 1337.40,2117.28C1340.40,2117.45 1343.40,2117.61 1346.40,2117.78C1349.40,2117.95 1352.40,2118.11 1355.40,2118.27C1358.40,2118.44 1361.40,2118.60 1364.40,2118.75C1367.40,2118.91 1370.40,2119.07 1373.40,2119.23C1376.40,2119.38 1379.40,2119.53 1382.40,2119.69C1385.40,2119.84 1388.40,2119.99 1391.40,2120.14C1394.40,2120.29 1397.40,2120.44 1400.40,2120.59C1403.40,2120.74 1406.40,2120.88 1409.40,2121.03C1412.40,2121.18 1415.40,2121.32 1418.40,2121.47C1421.40,2121.61 1424.40,2121.75 1427.40,2121.90C1430.40,2122.04 1433.40,2122.18 1436.40,2122.33C1439.40,2122.47 1442.40,2122.61 1445.40,2122.76C1448.40,2122.90 1451.40,2123.04 1454.40,2123.18C1457.40,2123.32 1460.40,2123.47 1463.40,2123.61C1466.40,2123.75 1469.40,2123.89 1472.40,2124.04C1475.40,2124.18 1478.40,2124.32 1481.40,2124.47C1484.40,2124.61 1487.40,2124.76 1490.40,2124.90C1493.40,2125.05 1496.40,2125.19 1499.40,2125.34C1502.40,2125.49 1505.40,2125.63 1508.40,2125.78C1511.40,2125.93 1514.40,2126.08 1517.40,2126.23C1520.40,2126.38 1523.40,2126.53 1526.40,2126.69C1529.40,2126.84 1532.40,2127.00 1535.40,2127.15C1535.70,2127.17 1536.00,2127.18 1536.30,2127.20C1538.97,2127.34 1541.63,2127.48 1544.30,2127.62" stroke="#006078"/>
<path d="M107.40,2062.76C110.07,2063.48 112.73,2064.19 115.40,2064.90C118.40,2065.70 121.40,2066.51 124.40,2067.30C127.40,2068.10 130.40,2068.88 133.40,2069.66C136.40,2070.43 139.40,2071.20 142.40,2071.96C145.40,2072.72 148.40,2073.47 151.40,2074.22C154.40,2074.96 157.40,2075.70 160.40,2076.43C163.40,2077.16 166.40,2077.88 169.40,2078.60C172.40,2079.31 175.40,2080.02 178.40,2080.72C181.40,2081.42 184.40,2082.12 187.40,2082.81C190.40,2083.49 193.40,2084.18 196.40,2084.85C199.40,2085.53 202.40,2086.19 205.40,2086.86C208.40,2087.52 211.40,2088.17 214.40,2088.82C217.40,2089.47 220.40,2090.12 223.40,2090.76C226.40,2091.39 229.40,2092.03 232.40,2092.65C235.40,2093.28 238.40,2093.90 241.40,2094.52C244.40,2095.14 247.40,2095.75 250.40,2096.35C253.40,2096.96 256.40,2097.56 259.40,2098.16C262.40,2098.75 265.40,2099.35 268.40,2099.93C271.40,2100.52 274.40,2101.10 277.40,2101.68C280.40,2102.26 283.40,2102.83 286.40,2103.40C289.40,2103.97 292.40,2104.54 295.40,2105.10C298.40,2105.66 301.40,2106.22 304.40,2106.78C307.40,2107.33 310.40,2107.88 313.40,2108.43C316.40,2108.98 319.40,2109.52 322.40,2110.06C325.40,2110.60 328.40,2111.14 331.40,2111.68C334.40,2112.21 337.40,2112.74 340.40,2113.27C343.40,2113.80 346.40,2114.33 349.40,2114.85C352.40,2115.38 355.40,2115.90 358.40,2116.42C361.40,2116.94 364.40,2117.46 367.40,2117.97C370.40,2118.49 373.40,2119.00 376.40,2119.51C379.40,2120.03 382.40,2120.54 385.40,2121.05C388.40,2121.55 391.40,2122.06 394.40,2122.57C397.40,2123.07 400.40,2123.58 403.40,2124.08C406.40,2124.59 409.40,2125.09 412.40,2125.59C415.40,2126.09 418.40,2126.60 421.40,2127.10C424.40,2127.60 427.40,2128.10 430.40,2128.60C433.40,2129.10 436.40,2129.60 439.40,2130.10C442.40,2130.60 445.40,2131.10 448.40,2131.60C451.40,2132.09 454.40,2132.59 457.40,2133.09C460.40,2133.60 463.40,2134.10 466.40,2134.60C469.40,2135.10 472.40,2135.60 475.40,2136.10C478.40,2136.61 481.40,2137.11 484.40,2137.61C487.40,2138.12 490.40,2138.63 493.40,2139.13C496.40,2139.64 499.40,2140.15 502.40,2140.66C505.40,2141.17 508.40,2141.68 511.40,2142.19C514.40,2142.71 517.40,2143.22 520.40,2143.74C523.40,2144.26 526.40,2144.78 529.40,2145.30C532.40,2145.82 535.40,2146.34 538.40,2146.87C541.40,2147.40 544.40,2147.93 547.40,2148.46C550.40,2148.99 553.40,2149.53 556.40,2150.06C559.40,2150.60 562.40,2151.14 565.40,2151.68C567.43,2152.05 569.47,2152.80 571.50,2152.80C573.97,2152.80 576.43,2151.80 578.90,2151.80C585.47,2151.80 592.03,2154.07 598.60,2155.40C601.60,2156.00 604.60,2156.71 607.60,2157.37C610.60,2158.03 613.60,2158.68 616.60,2159.34C619.60,2160.00 622.60,2160.65 625.60,2161.31C628.60,2161.96 631.60,2162.62 634.60,2163.27C637.60,2163.93 640.60,2164.58 643.60,2165.23C646.60,2165.88 649.60,2166.53 652.60,2167.18C655.60,2167.83 658.60,2168.48 661.60,2169.13C664.60,2169.77 667.60,2170.42 670.60,2171.06C673.60,2171.70 676.60,2172.34 679.60,2172.98C682.60,2173.62 685.60,2174.26 688.60,2174.90C691.60,2175.53 694.60,2176.17 697.60,2176.80C700.60,2177.43 703.60,2178.06 706.60,2178.68C709.60,2179.31 712.60,2179.93 715.60,2180.56C718.60,2181.18 721.60,2181.80 724.60,2182.41C727.60,2183.03 730.60,2183.64 733.60,2184.25C736.60,2184.86 739.60,2185.46 742.60,2186.07C745.60,2186.67 748.60,2187.27 751.60,2187.87C754.60,2188.46 757.60,2189.05 760.60,2189.64C763.60,2190.23 766.60,2190.82 769.60,2191.40C772.60,2191.98 775.60,2192.56 778.60,2193.13C781.60,2193.70 784.60,2194.27 787.60,2194.84C790.60,2195.40 793.60,2195.96 796.60,2196.52C799.60,2197.08 802.60,2197.63 805.60,2198.17C808.60,2198.72 811.60,2199.26 814.60,2199.80C817.60,2200.34 820.60,2200.87 823.60,2201.40C826.60,2201.92 829.60,2202.44 832.60,2202.96C835.60,2203.48 838.60,2203.99 841.60,2204.49C844.60,2205.00 847.60,2205.50 850.60,2205.99C853.60,2206.49 856.60,2206.98 859.60,2207.46C862.60,2207.94 865.60,2208.42 868.60,2208.89C871.60,2209.36 874.60,2209.82 877.60,2210.28C880.60,2210.74 883.60,2211.19 886.60,2211.64C889.60,2212.08 892.60,2212.52 895.60,2212.95C898.60,2213.38 901.60,2213.81 904.60,2214.23C907.60,2214.64 910.60,2215.06 913.60,2215.46C916.60,2215.86 919.60,2216.26 922.60,2216.65C925.60,2217.04 928.60,2217.42 931.60,2217.80C934.60,2218.17 937.60,2218.54 940.60,2218.90C943.60,2219.26 946.60,2219.61 949.60,2219.95C952.60,2220.29 955.60,2220.63 958.60,2220.96C961.60,2221.28 964.60,2221.60 967.60,2221.91C970.60,2222.22 973.60,2222.53 976.60,2222.82C979.60,2223.12 982.60,2223.40 985.60,2223.68C988.60,2223.95 991.60,2224.22 994.60,2224.48C997.60,2224.74 1000.60,2224.99 1003.60,2225.23C1006.60,2225.47 1009.60,2225.70 1012.60,2225.92C1015.60,2226.15 1018.60,2226.36 1021.60,2226.56C1024.40,2226.75 1027.20,2227.11 1030.00,2227.11C1046.67,2227.11 1063.33,2225.35 1080.00,2225.00C1096.67,2224.65 1113.33,2224.30 1130.00,2224.30C1146.67,2224.30 1163.33,2225.61 1180.00,2226.50C1183.00,2226.66 1186.00,2226.87 1189.00,2227.05C1192.00,2227.24 1195.00,2227.43 1198.00,2227.62C1201.00,2227.81 1204.00,2228.01 1207.00,2228.20C1210.00,2228.40 1213.00,2228.60 1216.00,2228.80C1219.00,2229.00 1222.00,2229.20 1225.00,2229.41C1228.00,2229.61 1231.00,2229.82 1234.00,2230.02C1237.00,2230.23 1240.00,2230.44 1243.00,2230.65C1246.00,2230.86 1249.00,2231.07 1252.00,2231.28C1255.00,2231.49 1258.00,2231.71 1261.00,2231.92C1264.00,2232.13 1267.00,2232.35 1270.00,2232.56C1273.00,2232.78 1276.00,2232.99 1279.00,2233.20C1282.00,2233.42 1285.00,2233.63 1288.00,2233.85C1291.00,2234.06 1294.00,2234.28 1297.00,2234.49C1300.00,2234.70 1303.00,2234.92 1306.00,2235.13C1309.00,2235.34 1312.00,2235.55 1315.00,2235.77C1318.00,2235.98 1321.00,2236.19 1324.00,2236.39C1327.00,2236.60 1330.00,2236.81 1333.00,2237.02C1336.00,2237.22 1339.00,2237.43 1342.00,2237.63C1345.00,2237.83 1348.00,2238.03 1351.00,2238.23C1354.00,2238.43 1357.00,2238.63 1360.00,2238.82C1363.00,2239.01 1366.00,2239.21 1369.00,2239.40C1372.00,2239.59 1375.00,2239.77 1378.00,2239.96C1381.00,2240.14 1384.00,2240.32 1387.00,2240.50C1390.00,2240.68 1393.00,2240.85 1396.00,2241.02C1399.00,2241.20 1402.00,2241.36 1405.00,2241.53C1408.00,2241.69 1411.00,2241.85 1414.00,2242.01C1417.00,2242.17 1420.00,2242.32 1423.00,2242.47C1426.00,2242.62 1429.00,2242.76 1432.00,2242.91C1435.00,2243.05 1438.00,2243.18 1441.00,2243.31C1444.00,2243.44 1447.00,2243.57 1450.00,2243.69C1453.00,2243.81 1456.00,2243.93 1459.00,2244.04C1462.00,2244.15 1465.00,2244.26 1468.00,2244.36C1471.00,2244.46 1474.00,2244.56 1477.00,2244.65C1480.00,2244.74 1483.00,2244.82 1486.00,2244.90C1489.00,2244.98 1492.00,2245.05 1495.00,2245.12C1498.00,2245.18 1501.00,2245.24 1504.00,2245.29C1507.00,2245.35 1510.00,2245.39 1513.00,2245.43C1516.00,2245.47 1519.00,2245.51 1522.00,2245.53C1525.00,2245.56 1528.00,2245.58 1531.00,2245.59C1532.77,2245.59 1534.53,2245.60 1536.30,2245.60C1538.97,2245.61 1541.63,2245.61 1544.30,2245.62" stroke="#00A896"/>
<path d="M107.40,2152.49C110.07,2153.09 112.73,2153.70 115.40,2154.30C118.40,2154.98 121.40,2155.66 124.40,2156.34C127.40,2157.02 130.40,2157.70 133.40,2158.38C136.40,2159.06 139.40,2159.75 142.40,2160.43C145.40,2161.11 148.40,2161.79 151.40,2162.47C154.40,2163.15 157.40,2163.84 160.40,2164.52C163.40,2165.20 166.40,2165.88 169.40,2166.56C172.40,2167.25 175.40,2167.93 178.40,2168.61C181.40,2169.29 184.40,2169.97 187.40,2170.66C190.40,2171.34 193.40,2172.02 196.40,2172.70C199.40,2173.38 202.40,2174.07 205.40,2174.75C208.40,2175.43 211.40,2176.11 214.40,2176.79C217.40,2177.47 220.40,2178.15 223.40,2178.83C226.40,2179.52 229.40,2180.20 232.40,2180.88C235.40,2181.56 238.40,2182.24 241.40,2182.92C244.40,2183.60 247.40,2184.28 250.40,2184.96C253.40,2185.63 256.40,2186.31 259.40,2186.99C262.40,2187.67 265.40,2188.35 268.40,2189.03C271.40,2189.70 274.40,2190.38 277.40,2191.06C280.40,2191.73 283.40,2192.41 286.40,2193.09C289.40,2193.76 292.40,2194.44 295.40,2195.11C298.40,2195.78 301.40,2196.46 304.40,2197.13C307.40,2197.80 310.40,2198.48 313.40,2199.15C316.40,2199.82 319.40,2200.49 322.40,2201.16C325.40,2201.83 328.40,2202.50 331.40,2203.17C334.40,2203.84 337.40,2204.51 340.40,2205.18C343.40,2205.84 346.40,2206.51 349.40,2207.18C352.40,2207.84 355.40,2208.51 358.40,2209.17C361.40,2209.84 364.40,2210.50 367.40,2211.16C370.40,2211.82 373.40,2212.49 376.40,2213.15C379.40,2213.81 382.40,2214.47 385.40,2215.12C388.40,2215.78 391.40,2216.44 394.40,2217.10C397.40,2217.75 400.40,2218.41 403.40,2219.06C406.40,2219.72 409.40,2220.37 412.40,2221.02C415.40,2221.67 418.40,2222.32 421.40,2222.97C424.40,2223.62 427.40,2224.27 430.40,2224.92C433.40,2225.56 436.40,2226.21 439.40,2226.85C442.40,2227.50 445.40,2228.14 448.40,2228.78C451.40,2229.43 454.40,2230.07 457.40,2230.70C460.40,2231.34 463.40,2231.98 466.40,2232.62C469.40,2233.25 472.40,2233.89 475.40,2234.52C478.40,2235.16 481.40,2235.79 484.40,2236.42C487.40,2237.05 490.40,2237.68 493.40,2238.31C496.40,2238.93 499.40,2239.56 502.40,2240.18C505.40,2240.81 508.40,2241.43 511.40,2242.05C514.40,2242.67 517.40,2243.29 520.40,2243.91C523.40,2244.53 526.40,2245.14 529.40,2245.76C532.40,2246.37 535.40,2246.98 538.40,2247.59C541.40,2248.20 544.40,2248.81 547.40,2249.42C550.40,2250.03 553.40,2250.63 556.40,2251.24C559.40,2251.84 562.40,2252.44 565.40,2253.04C568.40,2253.64 571.40,2254.24 574.40,2254.83C577.40,2255.43 580.40,2256.02 583.40,2256.62C586.40,2257.21 589.40,2257.80 592.40,2258.39C595.40,2258.97 598.40,2259.56 601.40,2260.14C604.40,2260.73 607.40,2261.31 610.40,2261.89C613.40,2262.47 616.40,2263.04 619.40,2263.62C622.40,2264.19 625.40,2264.77 628.40,2265.34C631.40,2265.91 634.40,2266.48 637.40,2267.04C640.40,2267.61 643.40,2268.17 646.40,2268.74C649.40,2269.30 652.40,2269.86 655.40,2270.41C658.40,2270.97 661.40,2271.53 664.40,2272.08C667.40,2272.63 670.40,2273.18 673.40,2273.73C676.40,2274.28 679.40,2274.82 682.40,2275.36C685.40,2275.91 688.40,2276.45 691.40,2276.98C694.40,2277.52 697.40,2278.06 700.40,2278.59C703.40,2279.12 706.40,2279.65 709.40,2280.18C712.40,2280.70 715.40,2281.23 718.40,2281.75C721.40,2282.27 724.40,2282.79 727.40,2283.31C730.40,2283.83 733.40,2284.34 736.40,2284.85C739.40,2285.36 742.40,2285.87 745.40,2286.38C748.40,2286.88 751.40,2287.38 754.40,2287.88C757.40,2288.38 760.40,2288.88 763.40,2289.38C766.40,2289.87 769.40,2290.36 772.40,2290.85C775.40,2291.34 778.40,2291.82 781.40,2292.31C784.40,2292.79 787.40,2293.27 790.40,2293.74C793.40,2294.22 796.40,2294.69 799.40,2295.16C802.40,2295.63 805.40,2296.10 808.40,2296.57C811.40,2297.03 814.40,2297.49 817.40,2297.95C820.40,2298.41 823.40,2298.86 826.40,2299.31C829.40,2299.77 832.40,2300.21 835.40,2300.66C838.40,2301.11 841.40,2301.55 844.40,2301.99C847.40,2302.42 850.40,2302.86 853.40,2303.29C856.40,2303.72 859.40,2304.15 862.40,2304.58C865.40,2305.00 868.40,2305.43 871.40,2305.84C874.40,2306.26 877.40,2306.68 880.40,2307.09C883.40,2307.50 886.40,2307.91 889.40,2308.32C892.40,2308.72 895.40,2309.12 898.40,2309.52C901.40,2309.92 904.40,2310.31 907.40,2310.70C910.40,2311.09 913.40,2311.48 916.40,2311.86C919.40,2312.25 922.40,2312.63 925.40,2313.00C928.40,2313.38 931.40,2313.75 934.40,2314.12C937.40,2314.49 940.40,2314.85 943.40,2315.21C946.40,2315.58 949.40,2315.93 952.40,2316.29C955.40,2316.64 958.40,2316.99 961.40,2317.34C964.40,2317.68 967.40,2318.02 970.40,2318.36C972.93,2318.65 975.47,2318.80 978.00,2319.21C981.33,2319.75 984.67,2321.87 988.00,2322.50C1002.00,2325.14 1016.00,2326.73 1030.00,2327.30C1046.67,2327.97 1063.33,2328.50 1080.00,2328.50C1088.33,2328.50 1096.67,2327.79 1105.00,2327.00C1113.33,2326.21 1121.67,2323.25 1130.00,2321.30C1136.67,2319.74 1143.33,2317.40 1150.00,2316.50C1158.00,2315.42 1166.00,2314.30 1174.00,2314.30C1179.33,2314.30 1184.67,2314.68 1190.00,2315.10C1196.67,2315.62 1203.33,2317.74 1210.00,2319.00C1220.00,2320.89 1230.00,2322.96 1240.00,2324.50C1243.00,2324.96 1246.00,2325.34 1249.00,2325.75C1252.00,2326.16 1255.00,2326.57 1258.00,2326.97C1261.00,2327.37 1264.00,2327.77 1267.00,2328.17C1270.00,2328.56 1273.00,2328.95 1276.00,2329.34C1279.00,2329.72 1282.00,2330.11 1285.00,2330.48C1288.00,2330.86 1291.00,2331.24 1294.00,2331.61C1297.00,2331.97 1300.00,2332.34 1303.00,2332.70C1306.00,2333.06 1309.00,2333.42 1312.00,2333.77C1315.00,2334.12 1318.00,2334.47 1321.00,2334.82C1324.00,2335.16 1327.00,2335.50 1330.00,2335.84C1333.00,2336.17 1336.00,2336.50 1339.00,2336.83C1342.00,2337.16 1345.00,2337.48 1348.00,2337.80C1351.00,2338.12 1354.00,2338.43 1357.00,2338.74C1360.00,2339.05 1363.00,2339.36 1366.00,2339.66C1369.00,2339.96 1372.00,2340.25 1375.00,2340.55C1378.00,2340.84 1381.00,2341.13 1384.00,2341.41C1387.00,2341.69 1390.00,2341.97 1393.00,2342.25C1396.00,2342.52 1399.00,2342.79 1402.00,2343.06C1405.00,2343.32 1408.00,2343.58 1411.00,2343.84C1414.00,2344.10 1417.00,2344.35 1420.00,2344.60C1423.00,2344.84 1426.00,2345.09 1429.00,2345.32C1432.00,2345.56 1435.00,2345.80 1438.00,2346.03C1441.00,2346.26 1444.00,2346.48 1447.00,2346.70C1450.00,2346.92 1453.00,2347.14 1456.00,2347.35C1459.00,2347.56 1462.00,2347.77 1465.00,2347.97C1468.00,2348.17 1471.00,2348.37 1474.00,2348.56C1477.00,2348.76 1480.00,2348.94 1483.00,2349.13C1486.00,2349.31 1489.00,2349.49 1492.00,2349.67C1495.00,2349.84 1498.00,2350.01 1501.00,2350.17C1504.00,2350.34 1507.00,2350.50 1510.00,2350.66C1513.00,2350.81 1516.00,2350.96 1519.00,2351.11C1522.00,2351.26 1525.00,2351.40 1528.00,2351.53C1530.77,2351.66 1533.53,2351.78 1536.30,2351.90C1538.97,2352.02 1541.63,2352.14 1544.30,2352.25" stroke="#00A800"/>
<path d="M107.40,2252.54C110.07,2253.33 112.73,2254.11 115.40,2254.90C118.40,2255.78 121.40,2256.66 124.40,2257.55C127.40,2258.43 130.40,2259.32 133.40,2260.21C136.40,2261.09 139.40,2261.98 142.40,2262.87C145.40,2263.76 148.40,2264.65 151.40,2265.54C154.40,2266.43 157.40,2267.32 160.40,2268.22C163.40,2269.11 166.40,2270.00 169.40,2270.89C172.40,2271.78 175.40,2272.67 178.40,2273.56C181.40,2274.45 184.40,2275.33 187.40,2276.22C190.40,2277.11 193.40,2277.99 196.40,2278.88C199.40,2279.76 202.40,2280.64 205.40,2281.52C208.40,2282.40 211.40,2283.27 214.40,2284.15C217.40,2285.02 220.40,2285.89 223.40,2286.76C226.40,2287.63 229.40,2288.49 232.40,2289.35C235.40,2290.22 238.40,2291.07 241.40,2291.93C244.40,2292.78 247.40,2293.63 250.40,2294.47C253.40,2295.32 256.40,2296.16 259.40,2296.99C262.40,2297.83 265.40,2298.66 268.40,2299.48C271.40,2300.31 274.40,2301.13 277.40,2301.94C280.40,2302.75 283.40,2303.56 286.40,2304.36C289.40,2305.16 292.40,2305.96 295.40,2306.75C298.40,2307.54 301.40,2308.32 304.40,2309.09C307.40,2309.87 310.40,2310.63 313.40,2311.39C316.40,2312.15 319.40,2312.90 322.40,2313.65C325.40,2314.39 328.40,2315.13 331.40,2315.85C334.40,2316.58 337.40,2317.30 340.40,2318.01C343.40,2318.72 346.40,2319.42 349.40,2320.11C352.40,2320.80 355.40,2321.48 358.40,2322.15C361.40,2322.82 364.40,2323.48 367.40,2324.14C368.73,2324.43 370.07,2324.76 371.40,2325.00C387.60,2327.86 403.80,2329.21 420.00,2331.50C435.87,2333.74 451.73,2335.07 467.60,2338.60C470.60,2339.27 473.60,2340.55 476.60,2341.51C479.60,2342.47 482.60,2343.43 485.60,2344.38C488.60,2345.34 491.60,2346.29 494.60,2347.23C497.60,2348.17 500.60,2349.11 503.60,2350.04C506.60,2350.97 509.60,2351.90 512.60,2352.82C515.60,2353.74 518.60,2354.66 521.60,2355.57C524.60,2356.48 527.60,2357.39 530.60,2358.29C533.60,2359.19 536.60,2360.09 539.60,2360.98C542.60,2361.87 545.60,2362.76 548.60,2363.64C551.60,2364.53 554.60,2365.40 557.60,2366.28C560.60,2367.15 563.60,2368.02 566.60,2368.88C569.60,2369.75 572.60,2370.60 575.60,2371.46C578.60,2372.31 581.60,2373.16 584.60,2374.01C587.60,2374.86 590.60,2375.70 593.60,2376.53C596.60,2377.37 599.60,2378.20 602.60,2379.03C605.60,2379.86 608.60,2380.68 611.60,2381.50C614.60,2382.32 617.60,2383.14 620.60,2383.95C623.60,2384.76 626.60,2385.57 629.60,2386.37C632.60,2387.18 635.60,2387.98 638.60,2388.77C641.60,2389.57 644.60,2390.36 647.60,2391.15C650.60,2391.93 653.60,2392.72 656.60,2393.50C659.60,2394.28 662.60,2395.06 665.60,2395.83C668.60,2396.60 671.60,2397.37 674.60,2398.13C677.60,2398.90 680.60,2399.66 683.60,2400.42C686.60,2401.18 689.60,2401.93 692.60,2402.68C695.60,2403.43 698.60,2404.18 701.60,2404.93C704.60,2405.67 707.60,2406.41 710.60,2407.15C713.60,2407.89 716.60,2408.62 719.60,2409.35C722.60,2410.08 725.60,2410.81 728.60,2411.53C731.60,2412.26 734.60,2412.98 737.60,2413.70C740.60,2414.42 743.60,2415.13 746.60,2415.85C749.60,2416.56 752.60,2417.27 755.60,2417.97C758.60,2418.68 761.60,2419.38 764.60,2420.08C767.60,2420.79 770.60,2421.48 773.60,2422.18C776.60,2422.87 779.60,2423.57 782.60,2424.26C785.60,2424.95 788.60,2425.63 791.60,2426.32C794.60,2427.00 797.60,2427.68 800.60,2428.36C803.60,2429.04 806.60,2429.72 809.60,2430.39C812.60,2431.07 815.60,2431.74 818.60,2432.41C821.60,2433.08 824.60,2433.75 827.60,2434.41C830.60,2435.08 833.60,2435.74 836.60,2436.40C839.60,2437.06 842.60,2437.72 845.60,2438.38C848.60,2439.04 851.60,2439.69 854.60,2440.34C857.60,2441.00 860.60,2441.65 863.60,2442.29C866.60,2442.94 869.60,2443.59 872.60,2444.23C875.60,2444.87 878.60,2445.52 881.60,2446.15C884.60,2446.79 887.60,2447.43 890.60,2448.06C893.60,2448.70 896.60,2449.33 899.60,2449.96C902.60,2450.59 905.60,2451.22 908.60,2451.84C911.60,2452.46 914.60,2453.09 917.60,2453.70C920.60,2454.32 923.60,2454.94 926.60,2455.55C929.60,2456.17 932.60,2456.78 935.60,2457.39C938.60,2457.99 941.60,2458.60 944.60,2459.20C947.60,2459.80 950.60,2460.40 953.60,2461.00C956.60,2461.60 959.60,2462.19 962.60,2462.78C965.60,2463.37 968.60,2463.96 971.60,2464.54C974.60,2465.13 977.60,2465.71 980.60,2466.29C983.60,2466.87 986.60,2467.44 989.60,2468.01C992.60,2468.59 995.60,2469.16 998.60,2469.72C1001.60,2470.29 1004.60,2470.85 1007.60,2471.41C1010.60,2471.97 1013.60,2472.52 1016.60,2473.07C1019.60,2473.62 1022.60,2474.17 1025.60,2474.72C1028.60,2475.26 1031.60,2475.80 1034.60,2476.34C1037.60,2476.88 1040.60,2477.41 1043.60,2477.94C1046.60,2478.47 1049.60,2479.00 1052.60,2479.52C1055.60,2480.05 1058.60,2480.57 1061.60,2481.08C1064.60,2481.60 1067.60,2482.11 1070.60,2482.62C1073.60,2483.12 1076.60,2483.63 1079.60,2484.13C1082.60,2484.63 1085.60,2485.12 1088.60,2485.62C1091.60,2486.11 1094.60,2486.60 1097.60,2487.08C1100.60,2487.56 1103.60,2488.04 1106.60,2488.52C1109.60,2488.99 1112.60,2489.46 1115.60,2489.93C1118.60,2490.40 1121.60,2490.86 1124.60,2491.32C1127.60,2491.78 1130.60,2492.23 1133.60,2492.68C1136.60,2493.13 1139.60,2493.57 1142.60,2494.01C1145.60,2494.46 1148.60,2494.89 1151.60,2495.32C1154.60,2495.75 1157.60,2496.18 1160.60,2496.60C1163.60,2497.03 1166.60,2497.44 1169.60,2497.86C1172.60,2498.27 1175.60,2498.68 1178.60,2499.08C1181.60,2499.49 1184.60,2499.88 1187.60,2500.28C1190.60,2500.67 1193.60,2501.06 1196.60,2501.44C1199.60,2501.83 1202.60,2502.21 1205.60,2502.58C1208.60,2502.96 1211.60,2503.32 1214.60,2503.69C1217.60,2504.05 1220.60,2504.41 1223.60,2504.77C1225.73,2505.02 1227.87,2505.45 1230.00,2505.51C1248.87,2506.11 1267.73,2506.30 1286.60,2506.30C1302.03,2506.30 1317.47,2498.78 1332.90,2496.50C1343.17,2494.98 1353.43,2492.90 1363.70,2492.90C1377.03,2492.90 1390.37,2499.00 1403.70,2499.00C1447.90,2499.00 1492.10,2499.00 1536.30,2499.00C1538.97,2499.00 1541.63,2499.00 1544.30,2499.00" stroke="#00DD00"/>
</g>
<text x="1606.23" y="240.80" font-size="65.50" fill="#0066FF" transform="translate(1611.60,240.80) scale(1.000,1.030) translate(-1611.60,-240.80)">PBS</text>
<text fill="#0066CC" transform="translate(0,453.00) scale(1,1.030) translate(0,-453.00)"><tspan x="1535.62" y="453.00" font-size="65.50">coPBS</tspan><tspan x="1735.17" y="477.30" font-size="39.00">90</tspan><tspan x="1778.53" y="453.00" font-size="65.50">RF</tspan><tspan x="1866.83" y="477.30" font-size="39.00">10</tspan></text>
<text fill="#0000CC" transform="translate(0,588.40) scale(1,1.030) translate(0,-588.40)"><tspan x="1537.52" y="588.40" font-size="65.50">coPBS</tspan><tspan x="1737.51" y="612.70" font-size="39.00">80</tspan><tspan x="1781.33" y="588.40" font-size="65.50">RF</tspan><tspan x="1867.24" y="612.70" font-size="39.00">20</tspan></text>
<text fill="#00DDFF" transform="translate(0,681.00) scale(1,1.030) translate(0,-681.00)"><tspan x="1530.22" y="681.00" font-size="65.50">coPBS</tspan><tspan x="1733.70" y="705.30" font-size="39.00">70</tspan><tspan x="1773.73" y="681.00" font-size="65.50">RF</tspan><tspan x="1861.71" y="705.30" font-size="39.00">30</tspan></text>
<text fill="#006078" transform="translate(0,771.90) scale(1,1.030) translate(0,-771.90)"><tspan x="1536.72" y="771.90" font-size="65.50">coPBS</tspan><tspan x="1737.64" y="796.20" font-size="39.00">50</tspan><tspan x="1780.53" y="771.90" font-size="65.50">RF</tspan><tspan x="1868.44" y="796.20" font-size="39.00">50</tspan></text>
<text fill="#00A896" transform="translate(0,864.20) scale(1,1.030) translate(0,-864.20)"><tspan x="1542.22" y="864.20" font-size="65.50">coPBS</tspan><tspan x="1742.10" y="888.50" font-size="39.00">40</tspan><tspan x="1785.93" y="864.20" font-size="65.50">RF</tspan><tspan x="1872.02" y="888.50" font-size="39.00">60</tspan></text>
<text fill="#00A800" transform="translate(0,952.70) scale(1,1.030) translate(0,-952.70)"><tspan x="1535.62" y="952.70" font-size="65.50">coPBS</tspan><tspan x="1735.04" y="977.00" font-size="39.00">20</tspan><tspan x="1779.13" y="952.70" font-size="65.50">RF</tspan><tspan x="1867.51" y="977.00" font-size="39.00">80</tspan></text>
<text x="1601.43" y="1086.70" font-size="65.50" fill="#00DD00" transform="translate(1606.80,1086.70) scale(1.000,1.030) translate(-1606.80,-1086.70)">PRF</text>
<text x="1616.14" y="1700.00" font-size="67.80" fill="#FF0000" transform="translate(1621.70,1700.00) scale(1.000,1.030) translate(-1621.70,-1700.00)">PES</text>
<text fill="#0066CC" transform="translate(0,1793.90) scale(1,1.030) translate(0,-1793.90)"><tspan x="1542.02" y="1793.90" font-size="67.80">coPES</tspan><tspan x="1749.87" y="1819.50" font-size="39.00">90</tspan><tspan x="1794.44" y="1793.90" font-size="67.80">RF</tspan><tspan x="1886.03" y="1819.50" font-size="39.00">10</tspan></text>
<text fill="#0000CC" transform="translate(0,1907.70) scale(1,1.030) translate(0,-1907.70)"><tspan x="1543.42" y="1907.70" font-size="67.80">coPES</tspan><tspan x="1750.31" y="1933.30" font-size="39.00">80</tspan><tspan x="1794.44" y="1907.70" font-size="67.80">RF</tspan><tspan x="1884.84" y="1933.30" font-size="39.00">20</tspan></text>
<text fill="#00DDFF" transform="translate(0,2033.20) scale(1,1.030) translate(0,-2033.20)"><tspan x="1540.12" y="2033.20" font-size="67.80">coPES</tspan><tspan x="1748.60" y="2058.80" font-size="39.00">70</tspan><tspan x="1792.44" y="2033.20" font-size="67.80">RF</tspan><tspan x="1884.71" y="2058.80" font-size="39.00">30</tspan></text>
<text fill="#006078" transform="translate(0,2145.70) scale(1,1.030) translate(0,-2145.70)"><tspan x="1540.12" y="2145.70" font-size="67.80">coPES</tspan><tspan x="1748.44" y="2171.30" font-size="39.00">50</tspan><tspan x="1792.44" y="2145.70" font-size="67.80">RF</tspan><tspan x="1884.14" y="2171.30" font-size="39.00">50</tspan></text>
<text fill="#00A896" transform="translate(0,2252.80) scale(1,1.030) translate(0,-2252.80)"><tspan x="1537.42" y="2252.80" font-size="67.80">coPES</tspan><tspan x="1745.60" y="2278.40" font-size="39.00">40</tspan><tspan x="1790.64" y="2252.80" font-size="67.80">RF</tspan><tspan x="1880.22" y="2278.40" font-size="39.00">60</tspan></text>
<text fill="#00A800" transform="translate(0,2370.90) scale(1,1.030) translate(0,-2370.90)"><tspan x="1540.12" y="2370.90" font-size="67.80">coPES</tspan><tspan x="1745.94" y="2396.50" font-size="39.00">20</tspan><tspan x="1792.44" y="2370.90" font-size="67.80">RF</tspan><tspan x="1883.21" y="2396.50" font-size="39.00">80</tspan></text>
<text x="1614.24" y="2510.10" font-size="67.80" fill="#00DD00" transform="translate(1619.80,2510.10) scale(1.000,1.030) translate(-1619.80,-2510.10)">PRF</text>
</svg></body></html>
